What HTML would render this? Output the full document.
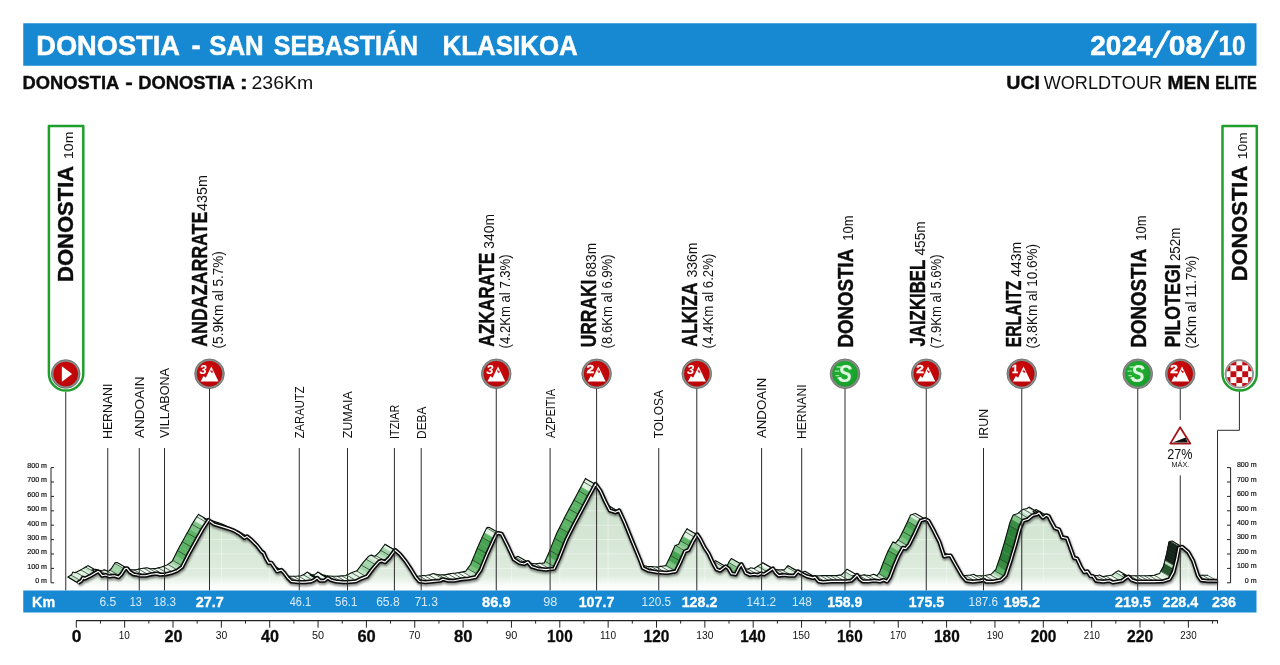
<!DOCTYPE html>
<html lang="eu">
<head>
<meta charset="utf-8">
<title>Donostia - San Sebastián Klasikoa 2024</title>
<style>
html,body{margin:0;padding:0;background:#fff;}
body{width:1280px;height:665px;overflow:hidden;}
svg{display:block;font-family:"Liberation Sans", sans-serif;}
text{font-kerning:normal;}
</style>
</head>
<body>
<svg width="1280" height="665" viewBox="0 0 1280 665">
<rect width="1280" height="665" fill="#fff"/>
<rect x="23.25" y="23.25" width="1233.25" height="42.5" fill="#1789d3"/>
<text x="36.23" y="54.50" font-size="28" font-weight="bold" fill="#fff" textLength="143.78" lengthAdjust="spacingAndGlyphs" stroke="#fff" stroke-width="0.5">DONOSTIA</text>
<text x="191.40" y="54.50" font-size="28" font-weight="bold" fill="#fff" textLength="9.14" lengthAdjust="spacingAndGlyphs" stroke="#fff" stroke-width="0.5">-</text>
<text x="209.23" y="54.50" font-size="28" font-weight="bold" fill="#fff" textLength="54.49" lengthAdjust="spacingAndGlyphs" stroke="#fff" stroke-width="0.5">SAN</text>
<text x="273.75" y="54.50" font-size="28" font-weight="bold" fill="#fff" textLength="144.21" lengthAdjust="spacingAndGlyphs" stroke="#fff" stroke-width="0.5">SEBASTIÁN</text>
<text x="442.57" y="54.50" font-size="28" font-weight="bold" fill="#fff" textLength="135.14" lengthAdjust="spacingAndGlyphs" stroke="#fff" stroke-width="0.5">KLASIKOA</text>
<text x="1090.27" y="54.80" font-size="28" font-weight="bold" fill="#fff" textLength="62.36" lengthAdjust="spacingAndGlyphs" stroke="#fff" stroke-width="0.5">2024</text>
<text x="1168.80" y="54.80" font-size="28" font-weight="bold" fill="#fff" textLength="33.42" lengthAdjust="spacingAndGlyphs" stroke="#fff" stroke-width="0.5">08</text>
<text x="1218.54" y="54.80" font-size="28" font-weight="bold" fill="#fff" textLength="26.98" lengthAdjust="spacingAndGlyphs" stroke="#fff" stroke-width="0.5">10</text>
<text transform="translate(1158.2 56.6) skewX(-15)" font-size="36" fill="#fff" stroke="#fff" stroke-width="0.9" text-anchor="middle">/</text>
<text transform="translate(1206.2 56.6) skewX(-15)" font-size="36" fill="#fff" stroke="#fff" stroke-width="0.9" text-anchor="middle">/</text>
<text x="22.56" y="88.75" font-size="17.5" font-weight="bold" fill="#0c0c0c" textLength="96.70" lengthAdjust="spacingAndGlyphs" stroke="#0c0c0c" stroke-width="0.35">DONOSTIA</text>
<text x="125.35" y="88.75" font-size="17.5" font-weight="bold" fill="#0c0c0c" textLength="7.51" lengthAdjust="spacingAndGlyphs" stroke="#0c0c0c" stroke-width="0.35">-</text>
<text x="138.31" y="88.75" font-size="17.5" font-weight="bold" fill="#0c0c0c" textLength="96.70" lengthAdjust="spacingAndGlyphs" stroke="#0c0c0c" stroke-width="0.35">DONOSTIA</text>
<text x="239.71" y="88.75" font-size="17.5" font-weight="bold" fill="#0c0c0c" textLength="8.04" lengthAdjust="spacingAndGlyphs" stroke="#0c0c0c" stroke-width="0.35">:</text>
<text x="251.53" y="88.75" font-size="17.5" font-weight="normal" fill="#111" textLength="61.71" lengthAdjust="spacingAndGlyphs">236Km</text>
<text x="1006.32" y="88.75" font-size="17.5" font-weight="bold" fill="#0c0c0c" textLength="33.74" lengthAdjust="spacingAndGlyphs" stroke="#0c0c0c" stroke-width="0.35">UCI</text>
<text x="1167.51" y="88.75" font-size="17.5" font-weight="bold" fill="#0c0c0c" textLength="42.53" lengthAdjust="spacingAndGlyphs" stroke="#0c0c0c" stroke-width="0.35">MEN</text>
<text x="1215.30" y="88.75" font-size="17.5" font-weight="bold" fill="#0c0c0c" textLength="41.52" lengthAdjust="spacingAndGlyphs" stroke="#0c0c0c" stroke-width="0.35">ELITE</text>
<text x="1043.66" y="88.75" font-size="17.5" font-weight="normal" fill="#111" textLength="118.45" lengthAdjust="spacingAndGlyphs">WORLDTOUR</text>
<defs>
<linearGradient id="face" x1="0" y1="480" x2="0" y2="592" gradientUnits="userSpaceOnUse"><stop offset="0" stop-color="#c9dfca"/><stop offset="0.5" stop-color="#d5e6d5"/><stop offset="0.85" stop-color="#dfecdf"/><stop offset="0.945" stop-color="#fbfdfb"/><stop offset="1" stop-color="#fff"/></linearGradient>
<filter id="blur" x="-5%" y="-20%" width="110%" height="140%"><feGaussianBlur stdDeviation="1.2"/></filter>
<radialGradient id="ring" cx="0.5" cy="0.5" r="0.5"><stop offset="0.8" stop-color="#6f6f6f"/><stop offset="0.9" stop-color="#b5b5b5"/><stop offset="1" stop-color="#777"/></radialGradient>
<radialGradient id="red" cx="0.45" cy="0.4" r="0.7"><stop offset="0" stop-color="#d20a0c"/><stop offset="1" stop-color="#b40508"/></radialGradient>
<radialGradient id="grn" cx="0.45" cy="0.4" r="0.7"><stop offset="0" stop-color="#22b534"/><stop offset="1" stop-color="#17982a"/></radialGradient>
<clipPath id="faceclip"><path d="M77.9 582.9 L81.4 580.7 L82.9 577.9 L85.0 578.6 L90.7 575.7 L97.9 571.4 L99.3 572.1 L102.1 575.7 L105.7 575.0 L109.3 576.4 L114.3 575.7 L118.6 577.1 L121.4 574.3 L125.0 568.6 L127.1 568.3 L130.0 572.1 L133.6 574.3 L137.9 575.0 L140.0 575.7 L145.7 575.7 L151.4 574.3 L157.1 573.6 L160.0 574.6 L165.7 574.3 L171.4 572.9 L177.1 570.7 L182.1 567.1 L188.6 554.3 L195.7 541.4 L202.9 528.6 L208.6 520.0 L209.3 520.7 L214.3 524.3 L221.4 526.4 L228.6 528.6 L234.3 530.7 L240.0 534.3 L244.3 537.9 L247.1 536.4 L251.4 540.0 L257.1 545.7 L261.4 551.4 L263.6 552.9 L265.7 557.9 L268.6 562.9 L271.4 562.9 L274.3 567.1 L277.1 571.4 L281.4 570.0 L284.3 572.9 L287.9 577.9 L291.4 581.4 L298.6 582.1 L305.7 582.1 L311.4 581.4 L314.3 580.0 L317.1 577.9 L320.0 580.7 L324.3 580.7 L327.9 577.9 L330.7 580.0 L335.7 581.4 L342.9 582.1 L347.1 582.1 L355.7 581.4 L361.4 578.6 L367.1 576.4 L372.9 568.6 L378.6 562.1 L381.4 560.7 L385.0 562.1 L389.3 557.9 L395.0 550.0 L400.0 554.3 L405.7 561.4 L411.4 570.0 L415.7 577.1 L419.3 581.4 L425.7 582.1 L432.9 581.4 L440.0 580.7 L442.9 579.3 L448.6 580.7 L454.3 580.7 L461.4 579.3 L468.6 578.6 L475.7 577.1 L480.7 570.0 L487.1 554.3 L493.6 540.0 L496.4 534.3 L497.9 533.0 L501.6 533.9 L507.3 545.2 L513.8 559.3 L519.5 563.0 L524.2 564.0 L527.9 562.1 L531.7 566.8 L538.3 568.7 L545.8 569.6 L554.2 568.7 L559.0 558.4 L566.5 539.5 L574.0 524.5 L581.5 510.4 L589.0 496.3 L595.6 484.1 L600.3 490.7 L605.0 501.0 L609.7 510.4 L615.3 512.3 L619.1 510.4 L624.7 522.6 L632.3 541.4 L640.0 560.0 L642.9 567.9 L648.6 570.7 L657.1 572.1 L667.1 572.9 L675.7 571.4 L680.0 562.9 L685.0 551.4 L688.6 550.0 L692.9 541.4 L697.1 534.3 L700.0 538.6 L704.3 547.1 L708.6 553.6 L712.9 562.9 L716.4 569.3 L720.0 570.7 L725.7 566.4 L728.6 568.6 L731.4 573.6 L735.7 574.3 L739.3 567.1 L741.4 564.3 L743.6 568.6 L745.7 572.9 L750.0 575.0 L754.3 574.3 L757.9 575.0 L760.7 573.6 L764.3 574.3 L768.6 571.4 L772.9 568.6 L775.7 572.9 L778.6 575.7 L784.3 575.0 L788.6 575.7 L794.3 575.7 L797.9 571.4 L801.4 573.6 L807.1 576.4 L812.9 577.9 L815.0 577.1 L818.6 581.4 L822.9 582.1 L831.4 581.4 L838.6 581.4 L845.7 581.4 L851.4 580.7 L854.3 577.9 L857.1 575.0 L860.0 579.3 L862.9 581.4 L868.6 581.4 L874.3 580.7 L880.0 581.4 L883.6 580.0 L887.1 581.4 L890.0 577.1 L894.3 565.7 L898.6 555.7 L902.9 547.9 L905.7 548.6 L909.3 544.3 L914.3 534.3 L920.5 520.8 L925.3 519.2 L928.4 520.8 L933.2 529.5 L939.5 542.1 L944.2 556.4 L947.4 555.6 L950.5 555.6 L955.3 564.2 L961.6 575.3 L966.4 580.8 L972.7 581.6 L980.6 580.8 L983.7 580.0 L986.1 581.6 L993.2 581.6 L1001.1 580.0 L1005.9 575.3 L1010.6 561.1 L1015.3 545.3 L1020.1 527.9 L1023.2 520.8 L1028.0 519.2 L1032.7 515.3 L1036.7 514.5 L1039.0 512.9 L1041.4 516.1 L1043.0 517.6 L1046.1 515.3 L1048.5 516.1 L1050.9 520.8 L1054.8 527.9 L1059.0 529.5 L1062.1 537.4 L1066.9 538.2 L1070.0 546.9 L1074.0 557.9 L1077.1 558.7 L1081.1 567.4 L1084.2 572.1 L1087.4 571.4 L1090.5 576.1 L1092.9 576.1 L1096.1 580.8 L1103.2 581.6 L1109.5 580.8 L1112.7 582.4 L1117.4 581.6 L1122.2 580.8 L1126.1 577.7 L1128.5 576.6 L1131.6 580.0 L1136.4 581.6 L1144.3 581.6 L1153.7 581.6 L1163.2 581.3 L1169.5 579.3 L1173.5 572.1 L1176.7 559.5 L1179.0 547.7 L1182.2 546.9 L1188.5 552.4 L1193.2 561.1 L1198.1 576.0 L1201.2 580.3 L1207.8 581.0 L1217.4 581.0 L1217.4 590.5 L77.9 590.5 Z"/></clipPath>
</defs>
<g stroke-linejoin="round" stroke-linecap="round">
<polygon points="77.9,582.9 78.7,582.3 68.7,576.5 67.9,577.1" fill="#c3e3c7" stroke="#c3e3c7" stroke-width="0.3"/>
<polygon points="78.7,582.3 81.1,580.9 71.1,575.1 68.7,576.5" fill="#c3e3c7" stroke="#c3e3c7" stroke-width="0.3"/>
<polygon points="81.1,580.9 81.4,580.7 82.9,577.9 83.5,578.1 73.5,572.3 72.9,572.1 71.4,574.9 71.1,575.1" fill="#dff1e1" stroke="#dff1e1" stroke-width="0.3"/>
<polygon points="83.5,578.1 85.0,578.6 86.0,578.1 76.0,572.3 75.0,572.8 73.5,572.3" fill="#dff1e1" stroke="#dff1e1" stroke-width="0.3"/>
<polygon points="86.0,578.1 88.4,576.9 78.4,571.1 76.0,572.3" fill="#dff1e1" stroke="#dff1e1" stroke-width="0.3"/>
<polygon points="88.4,576.9 90.7,575.7 90.8,575.7 80.8,569.9 80.7,569.9 78.4,571.1" fill="#dff1e1" stroke="#dff1e1" stroke-width="0.3"/>
<polygon points="90.8,575.7 93.2,574.2 83.2,568.4 80.8,569.9" fill="#dff1e1" stroke="#dff1e1" stroke-width="0.3"/>
<polygon points="93.2,574.2 95.6,572.8 85.6,567.0 83.2,568.4" fill="#c3e3c7" stroke="#c3e3c7" stroke-width="0.3"/>
<polygon points="95.6,572.8 97.9,571.4 98.1,571.5 88.1,565.7 87.9,565.6 85.6,567.0" fill="#f6fbf6" stroke="#f6fbf6" stroke-width="0.3"/>
<polygon points="102.9,575.6 105.3,575.1 95.3,569.3 92.9,569.8" fill="#f6fbf6" stroke="#f6fbf6" stroke-width="0.3"/>
<polygon points="105.3,575.1 105.7,575.0 107.7,575.8 97.7,570.0 95.7,569.2 95.3,569.3" fill="#f6fbf6" stroke="#f6fbf6" stroke-width="0.3"/>
<polygon points="107.7,575.8 109.3,576.4 110.1,576.3 100.1,570.5 99.3,570.6 97.7,570.0" fill="#f6fbf6" stroke="#f6fbf6" stroke-width="0.3"/>
<polygon points="110.1,576.3 112.6,576.0 102.6,570.2 100.1,570.5" fill="#f6fbf6" stroke="#f6fbf6" stroke-width="0.3"/>
<polygon points="112.6,576.0 114.3,575.7 115.0,575.9 105.0,570.1 104.3,569.9 102.6,570.2" fill="#f6fbf6" stroke="#f6fbf6" stroke-width="0.3"/>
<polygon points="115.0,575.9 117.4,576.7 107.4,570.9 105.0,570.1" fill="#f6fbf6" stroke="#f6fbf6" stroke-width="0.3"/>
<polygon points="117.4,576.7 118.6,577.1 119.8,575.9 109.8,570.1 108.6,571.3 107.4,570.9" fill="#dff1e1" stroke="#dff1e1" stroke-width="0.3"/>
<polygon points="119.8,575.9 121.4,574.3 122.2,573.0 112.2,567.2 111.4,568.5 109.8,570.1" fill="#a3d4a9" stroke="#a3d4a9" stroke-width="0.3"/>
<polygon points="122.2,573.0 124.7,569.1 114.7,563.3 112.2,567.2" fill="#a3d4a9" stroke="#a3d4a9" stroke-width="0.3"/>
<polygon points="124.7,569.1 125.0,568.6 127.1,568.3 117.1,562.5 115.0,562.8 114.7,563.3" fill="#f6fbf6" stroke="#f6fbf6" stroke-width="0.3"/>
<polygon points="131.9,573.3 133.6,574.3 134.3,574.4 124.3,568.6 123.6,568.5 121.9,567.5" fill="#f6fbf6" stroke="#f6fbf6" stroke-width="0.3"/>
<polygon points="134.3,574.4 136.7,574.8 126.7,569.0 124.3,568.6" fill="#f6fbf6" stroke="#f6fbf6" stroke-width="0.3"/>
<polygon points="136.7,574.8 137.9,575.0 139.2,575.4 129.2,569.6 127.9,569.2 126.7,569.0" fill="#f6fbf6" stroke="#f6fbf6" stroke-width="0.3"/>
<polygon points="139.2,575.4 140.0,575.7 141.6,575.7 131.6,569.9 130.0,569.9 129.2,569.6" fill="#f6fbf6" stroke="#f6fbf6" stroke-width="0.3"/>
<polygon points="141.6,575.7 144.0,575.7 134.0,569.9 131.6,569.9" fill="#f6fbf6" stroke="#f6fbf6" stroke-width="0.3"/>
<polygon points="144.0,575.7 145.7,575.7 146.4,575.5 136.4,569.7 135.7,569.9 134.0,569.9" fill="#f6fbf6" stroke="#f6fbf6" stroke-width="0.3"/>
<polygon points="146.4,575.5 148.8,574.9 138.8,569.1 136.4,569.7" fill="#f6fbf6" stroke="#f6fbf6" stroke-width="0.3"/>
<polygon points="148.8,574.9 151.2,574.3 141.2,568.5 138.8,569.1" fill="#f6fbf6" stroke="#f6fbf6" stroke-width="0.3"/>
<polygon points="151.2,574.3 151.4,574.3 153.7,574.0 143.7,568.2 141.4,568.5 141.2,568.5" fill="#f6fbf6" stroke="#f6fbf6" stroke-width="0.3"/>
<polygon points="153.7,574.0 156.1,573.7 146.1,567.9 143.7,568.2" fill="#f6fbf6" stroke="#f6fbf6" stroke-width="0.3"/>
<polygon points="156.1,573.7 157.1,573.6 158.5,574.0 148.5,568.2 147.1,567.8 146.1,567.9" fill="#f6fbf6" stroke="#f6fbf6" stroke-width="0.3"/>
<polygon points="158.5,574.0 160.0,574.6 160.9,574.5 150.9,568.7 150.0,568.8 148.5,568.2" fill="#f6fbf6" stroke="#f6fbf6" stroke-width="0.3"/>
<polygon points="160.9,574.5 163.3,574.4 153.3,568.6 150.9,568.7" fill="#f6fbf6" stroke="#f6fbf6" stroke-width="0.3"/>
<polygon points="163.3,574.4 165.7,574.3 165.8,574.3 155.8,568.5 155.7,568.5 153.3,568.6" fill="#f6fbf6" stroke="#f6fbf6" stroke-width="0.3"/>
<polygon points="165.8,574.3 168.2,573.7 158.2,567.9 155.8,568.5" fill="#f6fbf6" stroke="#f6fbf6" stroke-width="0.3"/>
<polygon points="168.2,573.7 170.6,573.1 160.6,567.3 158.2,567.9" fill="#dff1e1" stroke="#dff1e1" stroke-width="0.3"/>
<polygon points="170.6,573.1 171.4,572.9 173.0,572.3 163.0,566.5 161.4,567.1 160.6,567.3" fill="#dff1e1" stroke="#dff1e1" stroke-width="0.3"/>
<polygon points="173.0,572.3 175.4,571.4 165.4,565.6 163.0,566.5" fill="#dff1e1" stroke="#dff1e1" stroke-width="0.3"/>
<polygon points="175.4,571.4 177.1,570.7 177.8,570.2 167.8,564.4 167.1,564.9 165.4,565.6" fill="#dff1e1" stroke="#dff1e1" stroke-width="0.3"/>
<polygon points="177.8,570.2 180.2,568.5 170.2,562.7 167.8,564.4" fill="#c3e3c7" stroke="#c3e3c7" stroke-width="0.3"/>
<polygon points="180.2,568.5 182.1,567.1 182.7,566.1 172.7,560.3 172.1,561.3 170.2,562.7" fill="#a3d4a9" stroke="#a3d4a9" stroke-width="0.3"/>
<polygon points="182.7,566.1 185.1,561.2 175.1,555.4 172.7,560.3" fill="#80c588" stroke="#80c588" stroke-width="0.3"/>
<polygon points="185.1,561.2 187.5,556.4 177.5,550.6 175.1,555.4" fill="#5cb366" stroke="#5cb366" stroke-width="0.3"/>
<polygon points="187.5,556.4 188.6,554.3 189.9,551.9 179.9,546.1 178.6,548.5 177.5,550.6" fill="#5cb366" stroke="#5cb366" stroke-width="0.3"/>
<polygon points="189.9,551.9 192.3,547.5 182.3,541.7 179.9,546.1" fill="#5cb366" stroke="#5cb366" stroke-width="0.3"/>
<polygon points="192.3,547.5 194.8,543.1 184.8,537.3 182.3,541.7" fill="#5cb366" stroke="#5cb366" stroke-width="0.3"/>
<polygon points="194.8,543.1 195.7,541.4 197.2,538.8 187.2,533.0 185.7,535.6 184.8,537.3" fill="#5cb366" stroke="#5cb366" stroke-width="0.3"/>
<polygon points="197.2,538.8 199.6,534.5 189.6,528.7 187.2,533.0" fill="#5cb366" stroke="#5cb366" stroke-width="0.3"/>
<polygon points="199.6,534.5 202.0,530.1 192.0,524.3 189.6,528.7" fill="#80c588" stroke="#80c588" stroke-width="0.3"/>
<polygon points="202.0,530.1 202.9,528.6 204.4,526.2 194.4,520.4 192.9,522.8 192.0,524.3" fill="#80c588" stroke="#80c588" stroke-width="0.3"/>
<polygon points="204.4,526.2 206.8,522.6 196.8,516.8 194.4,520.4" fill="#dff1e1" stroke="#dff1e1" stroke-width="0.3"/>
<polygon points="206.8,522.6 208.6,520.0 209.3,520.7 199.3,514.9 198.6,514.2 196.8,516.8" fill="#dff1e1" stroke="#dff1e1" stroke-width="0.3"/>
<polygon points="214.1,524.2 214.3,524.3 216.5,525.0 206.5,519.2 204.3,518.5 204.1,518.4" fill="#f6fbf6" stroke="#f6fbf6" stroke-width="0.3"/>
<polygon points="216.5,525.0 218.9,525.7 208.9,519.9 206.5,519.2" fill="#f6fbf6" stroke="#f6fbf6" stroke-width="0.3"/>
<polygon points="218.9,525.7 221.3,526.4 211.3,520.6 208.9,519.9" fill="#f6fbf6" stroke="#f6fbf6" stroke-width="0.3"/>
<polygon points="221.3,526.4 221.4,526.4 223.8,527.1 213.8,521.3 211.4,520.6 211.3,520.6" fill="#f6fbf6" stroke="#f6fbf6" stroke-width="0.3"/>
<polygon points="223.8,527.1 226.2,527.9 216.2,522.1 213.8,521.3" fill="#f6fbf6" stroke="#f6fbf6" stroke-width="0.3"/>
<polygon points="226.2,527.9 228.6,528.6 228.6,528.6 218.6,522.8 218.6,522.8 216.2,522.1" fill="#f6fbf6" stroke="#f6fbf6" stroke-width="0.3"/>
<polygon points="228.6,528.6 231.0,529.5 221.0,523.7 218.6,522.8" fill="#f6fbf6" stroke="#f6fbf6" stroke-width="0.3"/>
<polygon points="231.0,529.5 233.4,530.4 223.4,524.6 221.0,523.7" fill="#f6fbf6" stroke="#f6fbf6" stroke-width="0.3"/>
<polygon points="233.4,530.4 234.3,530.7 235.9,531.7 225.9,525.9 224.3,524.9 223.4,524.6" fill="#f6fbf6" stroke="#f6fbf6" stroke-width="0.3"/>
<polygon points="243.1,536.9 244.3,537.9 245.5,537.2 235.5,531.4 234.3,532.1 233.1,531.1" fill="#f6fbf6" stroke="#f6fbf6" stroke-width="0.3"/>
<polygon points="245.5,537.2 247.1,536.4 247.9,537.1 237.9,531.3 237.1,530.6 235.5,531.4" fill="#f6fbf6" stroke="#f6fbf6" stroke-width="0.3"/>
<polygon points="269.7,562.9 271.4,562.9 272.1,563.9 262.1,558.1 261.4,557.1 259.7,557.1" fill="#f6fbf6" stroke="#f6fbf6" stroke-width="0.3"/>
<polygon points="276.9,571.1 277.1,571.4 279.4,570.7 269.4,564.9 267.1,565.6 266.9,565.3" fill="#f6fbf6" stroke="#f6fbf6" stroke-width="0.3"/>
<polygon points="279.4,570.7 281.4,570.0 281.8,570.4 271.8,564.6 271.4,564.2 269.4,564.9" fill="#f6fbf6" stroke="#f6fbf6" stroke-width="0.3"/>
<polygon points="291.5,581.4 293.9,581.7 283.9,575.9 281.5,575.6" fill="#f6fbf6" stroke="#f6fbf6" stroke-width="0.3"/>
<polygon points="293.9,581.7 296.3,581.9 286.3,576.1 283.9,575.9" fill="#f6fbf6" stroke="#f6fbf6" stroke-width="0.3"/>
<polygon points="296.3,581.9 298.6,582.1 298.7,582.1 288.7,576.3 288.6,576.3 286.3,576.1" fill="#f6fbf6" stroke="#f6fbf6" stroke-width="0.3"/>
<polygon points="298.7,582.1 301.1,582.1 291.1,576.3 288.7,576.3" fill="#f6fbf6" stroke="#f6fbf6" stroke-width="0.3"/>
<polygon points="301.1,582.1 303.6,582.1 293.6,576.3 291.1,576.3" fill="#f6fbf6" stroke="#f6fbf6" stroke-width="0.3"/>
<polygon points="303.6,582.1 305.7,582.1 306.0,582.1 296.0,576.3 295.7,576.3 293.6,576.3" fill="#f6fbf6" stroke="#f6fbf6" stroke-width="0.3"/>
<polygon points="306.0,582.1 308.4,581.8 298.4,576.0 296.0,576.3" fill="#f6fbf6" stroke="#f6fbf6" stroke-width="0.3"/>
<polygon points="308.4,581.8 310.8,581.5 300.8,575.7 298.4,576.0" fill="#f6fbf6" stroke="#f6fbf6" stroke-width="0.3"/>
<polygon points="310.8,581.5 311.4,581.4 313.2,580.5 303.2,574.7 301.4,575.6 300.8,575.7" fill="#dff1e1" stroke="#dff1e1" stroke-width="0.3"/>
<polygon points="313.2,580.5 314.3,580.0 315.6,579.0 305.6,573.2 304.3,574.2 303.2,574.7" fill="#dff1e1" stroke="#dff1e1" stroke-width="0.3"/>
<polygon points="315.6,579.0 317.1,577.9 318.1,578.8 308.1,573.0 307.1,572.1 305.6,573.2" fill="#f6fbf6" stroke="#f6fbf6" stroke-width="0.3"/>
<polygon points="320.5,580.7 322.9,580.7 312.9,574.9 310.5,574.9" fill="#f6fbf6" stroke="#f6fbf6" stroke-width="0.3"/>
<polygon points="322.9,580.7 324.3,580.7 325.3,579.9 315.3,574.1 314.3,574.9 312.9,574.9" fill="#dff1e1" stroke="#dff1e1" stroke-width="0.3"/>
<polygon points="325.3,579.9 327.7,578.0 317.7,572.2 315.3,574.1" fill="#f6fbf6" stroke="#f6fbf6" stroke-width="0.3"/>
<polygon points="330.1,579.6 330.7,580.0 332.6,580.5 322.6,574.7 320.7,574.2 320.1,573.8" fill="#f6fbf6" stroke="#f6fbf6" stroke-width="0.3"/>
<polygon points="332.6,580.5 335.0,581.2 325.0,575.4 322.6,574.7" fill="#f6fbf6" stroke="#f6fbf6" stroke-width="0.3"/>
<polygon points="335.0,581.2 335.7,581.4 337.4,581.6 327.4,575.8 325.7,575.6 325.0,575.4" fill="#f6fbf6" stroke="#f6fbf6" stroke-width="0.3"/>
<polygon points="337.4,581.6 339.8,581.8 329.8,576.0 327.4,575.8" fill="#f6fbf6" stroke="#f6fbf6" stroke-width="0.3"/>
<polygon points="339.8,581.8 342.2,582.1 332.2,576.3 329.8,576.0" fill="#f6fbf6" stroke="#f6fbf6" stroke-width="0.3"/>
<polygon points="342.2,582.1 342.9,582.1 344.6,582.1 334.6,576.3 332.9,576.3 332.2,576.3" fill="#f6fbf6" stroke="#f6fbf6" stroke-width="0.3"/>
<polygon points="344.6,582.1 347.1,582.1 337.1,576.3 334.6,576.3" fill="#f6fbf6" stroke="#f6fbf6" stroke-width="0.3"/>
<polygon points="347.1,582.1 347.1,582.1 349.5,581.9 339.5,576.1 337.1,576.3 337.1,576.3" fill="#f6fbf6" stroke="#f6fbf6" stroke-width="0.3"/>
<polygon points="349.5,581.9 351.9,581.7 341.9,575.9 339.5,576.1" fill="#f6fbf6" stroke="#f6fbf6" stroke-width="0.3"/>
<polygon points="351.9,581.7 354.3,581.5 344.3,575.7 341.9,575.9" fill="#f6fbf6" stroke="#f6fbf6" stroke-width="0.3"/>
<polygon points="354.3,581.5 355.7,581.4 356.7,580.9 346.7,575.1 345.7,575.6 344.3,575.7" fill="#dff1e1" stroke="#dff1e1" stroke-width="0.3"/>
<polygon points="356.7,580.9 359.1,579.7 349.1,573.9 346.7,575.1" fill="#dff1e1" stroke="#dff1e1" stroke-width="0.3"/>
<polygon points="359.1,579.7 361.4,578.6 361.6,578.5 351.6,572.7 351.4,572.8 349.1,573.9" fill="#dff1e1" stroke="#dff1e1" stroke-width="0.3"/>
<polygon points="361.6,578.5 364.0,577.6 354.0,571.8 351.6,572.7" fill="#dff1e1" stroke="#dff1e1" stroke-width="0.3"/>
<polygon points="364.0,577.6 366.4,576.7 356.4,570.9 354.0,571.8" fill="#dff1e1" stroke="#dff1e1" stroke-width="0.3"/>
<polygon points="366.4,576.7 367.1,576.4 368.8,574.1 358.8,568.3 357.1,570.6 356.4,570.9" fill="#c3e3c7" stroke="#c3e3c7" stroke-width="0.3"/>
<polygon points="368.8,574.1 371.2,570.8 361.2,565.0 358.8,568.3" fill="#a3d4a9" stroke="#a3d4a9" stroke-width="0.3"/>
<polygon points="371.2,570.8 372.9,568.6 373.6,567.7 363.6,561.9 362.9,562.8 361.2,565.0" fill="#a3d4a9" stroke="#a3d4a9" stroke-width="0.3"/>
<polygon points="373.6,567.7 376.1,565.0 366.1,559.2 363.6,561.9" fill="#a3d4a9" stroke="#a3d4a9" stroke-width="0.3"/>
<polygon points="376.1,565.0 378.5,562.2 368.5,556.4 366.1,559.2" fill="#c3e3c7" stroke="#c3e3c7" stroke-width="0.3"/>
<polygon points="378.5,562.2 378.6,562.1 380.9,561.0 370.9,555.2 368.6,556.3 368.5,556.4" fill="#dff1e1" stroke="#dff1e1" stroke-width="0.3"/>
<polygon points="380.9,561.0 381.4,560.7 383.3,561.5 373.3,555.7 371.4,554.9 370.9,555.2" fill="#f6fbf6" stroke="#f6fbf6" stroke-width="0.3"/>
<polygon points="383.3,561.5 385.0,562.1 385.7,561.4 375.7,555.6 375.0,556.3 373.3,555.7" fill="#dff1e1" stroke="#dff1e1" stroke-width="0.3"/>
<polygon points="385.7,561.4 388.2,559.0 378.2,553.2 375.7,555.6" fill="#c3e3c7" stroke="#c3e3c7" stroke-width="0.3"/>
<polygon points="388.2,559.0 389.3,557.9 390.6,556.1 380.6,550.3 379.3,552.1 378.2,553.2" fill="#a3d4a9" stroke="#a3d4a9" stroke-width="0.3"/>
<polygon points="390.6,556.1 393.0,552.8 383.0,547.0 380.6,550.3" fill="#a3d4a9" stroke="#a3d4a9" stroke-width="0.3"/>
<polygon points="393.0,552.8 395.0,550.0 395.4,550.4 385.4,544.6 385.0,544.2 383.0,547.0" fill="#dff1e1" stroke="#dff1e1" stroke-width="0.3"/>
<polygon points="419.6,581.5 422.0,581.7 412.0,575.9 409.6,575.7" fill="#f6fbf6" stroke="#f6fbf6" stroke-width="0.3"/>
<polygon points="422.0,581.7 424.4,582.0 414.4,576.2 412.0,575.9" fill="#f6fbf6" stroke="#f6fbf6" stroke-width="0.3"/>
<polygon points="424.4,582.0 425.7,582.1 426.8,582.0 416.8,576.2 415.7,576.3 414.4,576.2" fill="#f6fbf6" stroke="#f6fbf6" stroke-width="0.3"/>
<polygon points="426.8,582.0 429.2,581.8 419.2,576.0 416.8,576.2" fill="#f6fbf6" stroke="#f6fbf6" stroke-width="0.3"/>
<polygon points="429.2,581.8 431.7,581.5 421.7,575.7 419.2,576.0" fill="#f6fbf6" stroke="#f6fbf6" stroke-width="0.3"/>
<polygon points="431.7,581.5 432.9,581.4 434.1,581.3 424.1,575.5 422.9,575.6 421.7,575.7" fill="#f6fbf6" stroke="#f6fbf6" stroke-width="0.3"/>
<polygon points="434.1,581.3 436.5,581.1 426.5,575.3 424.1,575.5" fill="#f6fbf6" stroke="#f6fbf6" stroke-width="0.3"/>
<polygon points="436.5,581.1 438.9,580.8 428.9,575.0 426.5,575.3" fill="#f6fbf6" stroke="#f6fbf6" stroke-width="0.3"/>
<polygon points="438.9,580.8 440.0,580.7 441.3,580.0 431.3,574.2 430.0,574.9 428.9,575.0" fill="#f6fbf6" stroke="#f6fbf6" stroke-width="0.3"/>
<polygon points="441.3,580.0 442.9,579.3 443.8,579.5 433.8,573.7 432.9,573.5 431.3,574.2" fill="#f6fbf6" stroke="#f6fbf6" stroke-width="0.3"/>
<polygon points="443.8,579.5 446.2,580.1 436.2,574.3 433.8,573.7" fill="#f6fbf6" stroke="#f6fbf6" stroke-width="0.3"/>
<polygon points="446.2,580.1 448.6,580.7 448.6,580.7 438.6,574.9 438.6,574.9 436.2,574.3" fill="#f6fbf6" stroke="#f6fbf6" stroke-width="0.3"/>
<polygon points="448.6,580.7 451.0,580.7 441.0,574.9 438.6,574.9" fill="#f6fbf6" stroke="#f6fbf6" stroke-width="0.3"/>
<polygon points="451.0,580.7 453.4,580.7 443.4,574.9 441.0,574.9" fill="#f6fbf6" stroke="#f6fbf6" stroke-width="0.3"/>
<polygon points="453.4,580.7 454.3,580.7 455.9,580.4 445.9,574.6 444.3,574.9 443.4,574.9" fill="#f6fbf6" stroke="#f6fbf6" stroke-width="0.3"/>
<polygon points="455.9,580.4 458.3,579.9 448.3,574.1 445.9,574.6" fill="#f6fbf6" stroke="#f6fbf6" stroke-width="0.3"/>
<polygon points="458.3,579.9 460.7,579.4 450.7,573.6 448.3,574.1" fill="#f6fbf6" stroke="#f6fbf6" stroke-width="0.3"/>
<polygon points="460.7,579.4 461.4,579.3 463.1,579.1 453.1,573.3 451.4,573.5 450.7,573.6" fill="#f6fbf6" stroke="#f6fbf6" stroke-width="0.3"/>
<polygon points="463.1,579.1 465.5,578.9 455.5,573.1 453.1,573.3" fill="#f6fbf6" stroke="#f6fbf6" stroke-width="0.3"/>
<polygon points="465.5,578.9 467.9,578.6 457.9,572.8 455.5,573.1" fill="#f6fbf6" stroke="#f6fbf6" stroke-width="0.3"/>
<polygon points="467.9,578.6 468.6,578.6 470.4,578.2 460.4,572.4 458.6,572.8 457.9,572.8" fill="#f6fbf6" stroke="#f6fbf6" stroke-width="0.3"/>
<polygon points="470.4,578.2 472.8,577.7 462.8,571.9 460.4,572.4" fill="#f6fbf6" stroke="#f6fbf6" stroke-width="0.3"/>
<polygon points="472.8,577.7 475.2,577.2 465.2,571.4 462.8,571.9" fill="#dff1e1" stroke="#dff1e1" stroke-width="0.3"/>
<polygon points="475.2,577.2 475.7,577.1 477.6,574.4 467.6,568.6 465.7,571.3 465.2,571.4" fill="#c3e3c7" stroke="#c3e3c7" stroke-width="0.3"/>
<polygon points="477.6,574.4 480.0,571.0 470.0,565.2 467.6,568.6" fill="#80c588" stroke="#80c588" stroke-width="0.3"/>
<polygon points="480.0,571.0 480.7,570.0 482.4,565.8 472.4,560.0 470.7,564.2 470.0,565.2" fill="#5cb366" stroke="#5cb366" stroke-width="0.3"/>
<polygon points="482.4,565.8 484.9,559.9 474.9,554.1 472.4,560.0" fill="#47a352" stroke="#47a352" stroke-width="0.3"/>
<polygon points="484.9,559.9 487.1,554.3 487.3,554.0 477.3,548.2 477.1,548.5 474.9,554.1" fill="#47a352" stroke="#47a352" stroke-width="0.3"/>
<polygon points="487.3,554.0 489.7,548.6 479.7,542.8 477.3,548.2" fill="#47a352" stroke="#47a352" stroke-width="0.3"/>
<polygon points="489.7,548.6 492.1,543.2 482.1,537.4 479.7,542.8" fill="#47a352" stroke="#47a352" stroke-width="0.3"/>
<polygon points="492.1,543.2 493.6,540.0 494.5,538.1 484.5,532.3 483.6,534.2 482.1,537.4" fill="#5cb366" stroke="#5cb366" stroke-width="0.3"/>
<polygon points="494.5,538.1 496.4,534.3 496.9,533.8 486.9,528.0 486.4,528.5 484.5,532.3" fill="#dff1e1" stroke="#dff1e1" stroke-width="0.3"/>
<polygon points="496.9,533.8 497.9,533.0 499.4,533.3 489.4,527.5 487.9,527.2 486.9,528.0" fill="#dff1e1" stroke="#dff1e1" stroke-width="0.3"/>
<polygon points="499.4,533.3 501.6,533.9 501.8,534.2 491.8,528.4 491.6,528.1 489.4,527.5" fill="#f6fbf6" stroke="#f6fbf6" stroke-width="0.3"/>
<polygon points="518.7,562.5 519.5,563.0 521.1,563.4 511.1,557.6 509.5,557.2 508.7,556.7" fill="#f6fbf6" stroke="#f6fbf6" stroke-width="0.3"/>
<polygon points="521.1,563.4 523.5,563.9 513.5,558.1 511.1,557.6" fill="#f6fbf6" stroke="#f6fbf6" stroke-width="0.3"/>
<polygon points="523.5,563.9 524.2,564.0 526.0,563.1 516.0,557.3 514.2,558.2 513.5,558.1" fill="#f6fbf6" stroke="#f6fbf6" stroke-width="0.3"/>
<polygon points="526.0,563.1 527.9,562.1 528.4,562.7 518.4,556.9 517.9,556.3 516.0,557.3" fill="#f6fbf6" stroke="#f6fbf6" stroke-width="0.3"/>
<polygon points="533.2,567.2 535.6,567.9 525.6,562.1 523.2,561.4" fill="#f6fbf6" stroke="#f6fbf6" stroke-width="0.3"/>
<polygon points="535.6,567.9 538.0,568.6 528.0,562.8 525.6,562.1" fill="#f6fbf6" stroke="#f6fbf6" stroke-width="0.3"/>
<polygon points="538.0,568.6 538.3,568.7 540.5,569.0 530.5,563.2 528.3,562.9 528.0,562.8" fill="#f6fbf6" stroke="#f6fbf6" stroke-width="0.3"/>
<polygon points="540.5,569.0 542.9,569.3 532.9,563.5 530.5,563.2" fill="#f6fbf6" stroke="#f6fbf6" stroke-width="0.3"/>
<polygon points="542.9,569.3 545.3,569.6 535.3,563.8 532.9,563.5" fill="#f6fbf6" stroke="#f6fbf6" stroke-width="0.3"/>
<polygon points="545.3,569.6 545.8,569.6 547.7,569.4 537.7,563.6 535.8,563.8 535.3,563.8" fill="#f6fbf6" stroke="#f6fbf6" stroke-width="0.3"/>
<polygon points="547.7,569.4 550.1,569.1 540.1,563.3 537.7,563.6" fill="#f6fbf6" stroke="#f6fbf6" stroke-width="0.3"/>
<polygon points="550.1,569.1 552.5,568.9 542.5,563.1 540.1,563.3" fill="#dff1e1" stroke="#dff1e1" stroke-width="0.3"/>
<polygon points="552.5,568.9 554.2,568.7 555.0,567.1 545.0,561.3 544.2,562.9 542.5,563.1" fill="#a3d4a9" stroke="#a3d4a9" stroke-width="0.3"/>
<polygon points="555.0,567.1 557.4,561.8 547.4,556.0 545.0,561.3" fill="#80c588" stroke="#80c588" stroke-width="0.3"/>
<polygon points="557.4,561.8 559.0,558.4 559.8,556.2 549.8,550.4 549.0,552.6 547.4,556.0" fill="#47a352" stroke="#47a352" stroke-width="0.3"/>
<polygon points="559.8,556.2 562.2,550.2 552.2,544.4 549.8,550.4" fill="#47a352" stroke="#47a352" stroke-width="0.3"/>
<polygon points="562.2,550.2 564.6,544.2 554.6,538.4 552.2,544.4" fill="#47a352" stroke="#47a352" stroke-width="0.3"/>
<polygon points="564.6,544.2 566.5,539.5 567.0,538.4 557.0,532.6 556.5,533.8 554.6,538.4" fill="#47a352" stroke="#47a352" stroke-width="0.3"/>
<polygon points="567.0,538.4 569.5,533.5 559.5,527.7 557.0,532.6" fill="#47a352" stroke="#47a352" stroke-width="0.3"/>
<polygon points="569.5,533.5 571.9,528.7 561.9,522.9 559.5,527.7" fill="#5cb366" stroke="#5cb366" stroke-width="0.3"/>
<polygon points="571.9,528.7 574.0,524.5 574.3,523.9 564.3,518.1 564.0,518.7 561.9,522.9" fill="#5cb366" stroke="#5cb366" stroke-width="0.3"/>
<polygon points="574.3,523.9 576.7,519.4 566.7,513.6 564.3,518.1" fill="#5cb366" stroke="#5cb366" stroke-width="0.3"/>
<polygon points="576.7,519.4 579.1,514.8 569.1,509.0 566.7,513.6" fill="#5cb366" stroke="#5cb366" stroke-width="0.3"/>
<polygon points="579.1,514.8 581.5,510.4 581.6,510.3 571.6,504.5 571.5,504.6 569.1,509.0" fill="#5cb366" stroke="#5cb366" stroke-width="0.3"/>
<polygon points="581.6,510.3 584.0,505.8 574.0,500.0 571.6,504.5" fill="#5cb366" stroke="#5cb366" stroke-width="0.3"/>
<polygon points="584.0,505.8 586.4,501.2 576.4,495.4 574.0,500.0" fill="#5cb366" stroke="#5cb366" stroke-width="0.3"/>
<polygon points="586.4,501.2 588.8,496.7 578.8,490.9 576.4,495.4" fill="#5cb366" stroke="#5cb366" stroke-width="0.3"/>
<polygon points="588.8,496.7 589.0,496.3 591.2,492.2 581.2,486.4 579.0,490.5 578.8,490.9" fill="#5cb366" stroke="#5cb366" stroke-width="0.3"/>
<polygon points="591.2,492.2 593.6,487.7 583.6,481.9 581.2,486.4" fill="#dff1e1" stroke="#dff1e1" stroke-width="0.3"/>
<polygon points="593.6,487.7 595.6,484.1 596.1,484.7 586.1,478.9 585.6,478.3 583.6,481.9" fill="#dff1e1" stroke="#dff1e1" stroke-width="0.3"/>
<polygon points="610.6,510.7 613.0,511.5 603.0,505.7 600.6,504.9" fill="#f6fbf6" stroke="#f6fbf6" stroke-width="0.3"/>
<polygon points="613.0,511.5 615.3,512.3 615.4,512.3 605.4,506.5 605.3,506.5 603.0,505.7" fill="#f6fbf6" stroke="#f6fbf6" stroke-width="0.3"/>
<polygon points="615.4,512.3 617.8,511.1 607.8,505.2 605.4,506.5" fill="#f6fbf6" stroke="#f6fbf6" stroke-width="0.3"/>
<polygon points="644.4,568.6 646.8,569.8 636.8,564.0 634.4,562.8" fill="#f6fbf6" stroke="#f6fbf6" stroke-width="0.3"/>
<polygon points="646.8,569.8 648.6,570.7 649.2,570.8 639.2,565.0 638.6,564.9 636.8,564.0" fill="#f6fbf6" stroke="#f6fbf6" stroke-width="0.3"/>
<polygon points="649.2,570.8 651.7,571.2 641.7,565.4 639.2,565.0" fill="#f6fbf6" stroke="#f6fbf6" stroke-width="0.3"/>
<polygon points="651.7,571.2 654.1,571.6 644.1,565.8 641.7,565.4" fill="#f6fbf6" stroke="#f6fbf6" stroke-width="0.3"/>
<polygon points="654.1,571.6 656.5,572.0 646.5,566.2 644.1,565.8" fill="#f6fbf6" stroke="#f6fbf6" stroke-width="0.3"/>
<polygon points="656.5,572.0 657.1,572.1 658.9,572.3 648.9,566.5 647.1,566.3 646.5,566.2" fill="#f6fbf6" stroke="#f6fbf6" stroke-width="0.3"/>
<polygon points="658.9,572.3 661.3,572.4 651.3,566.6 648.9,566.5" fill="#f6fbf6" stroke="#f6fbf6" stroke-width="0.3"/>
<polygon points="661.3,572.4 663.8,572.6 653.8,566.8 651.3,566.6" fill="#f6fbf6" stroke="#f6fbf6" stroke-width="0.3"/>
<polygon points="663.8,572.6 666.2,572.8 656.2,567.0 653.8,566.8" fill="#f6fbf6" stroke="#f6fbf6" stroke-width="0.3"/>
<polygon points="666.2,572.8 667.1,572.9 668.6,572.6 658.6,566.8 657.1,567.1 656.2,567.0" fill="#f6fbf6" stroke="#f6fbf6" stroke-width="0.3"/>
<polygon points="668.6,572.6 671.0,572.2 661.0,566.4 658.6,566.8" fill="#f6fbf6" stroke="#f6fbf6" stroke-width="0.3"/>
<polygon points="671.0,572.2 673.4,571.8 663.4,566.0 661.0,566.4" fill="#f6fbf6" stroke="#f6fbf6" stroke-width="0.3"/>
<polygon points="673.4,571.8 675.7,571.4 675.8,571.2 665.8,565.4 665.7,565.6 663.4,566.0" fill="#c3e3c7" stroke="#c3e3c7" stroke-width="0.3"/>
<polygon points="675.8,571.2 678.3,566.3 668.3,560.5 665.8,565.4" fill="#80c588" stroke="#80c588" stroke-width="0.3"/>
<polygon points="678.3,566.3 680.0,562.9 680.7,561.3 670.7,555.5 670.0,557.1 668.3,560.5" fill="#47a352" stroke="#47a352" stroke-width="0.3"/>
<polygon points="680.7,561.3 683.1,555.8 673.1,550.0 670.7,555.5" fill="#47a352" stroke="#47a352" stroke-width="0.3"/>
<polygon points="683.1,555.8 685.0,551.4 685.5,551.2 675.5,545.4 675.0,545.6 673.1,550.0" fill="#80c588" stroke="#80c588" stroke-width="0.3"/>
<polygon points="685.5,551.2 687.9,550.3 677.9,544.5 675.5,545.4" fill="#a3d4a9" stroke="#a3d4a9" stroke-width="0.3"/>
<polygon points="687.9,550.3 688.6,550.0 690.3,546.5 680.3,540.7 678.6,544.2 677.9,544.5" fill="#80c588" stroke="#80c588" stroke-width="0.3"/>
<polygon points="690.3,546.5 692.8,541.6 682.8,535.8 680.3,540.7" fill="#5cb366" stroke="#5cb366" stroke-width="0.3"/>
<polygon points="692.8,541.6 692.9,541.4 695.2,537.6 685.2,531.8 682.9,535.6 682.8,535.8" fill="#dff1e1" stroke="#dff1e1" stroke-width="0.3"/>
<polygon points="695.2,537.6 697.1,534.3 697.6,535.0 687.6,529.2 687.1,528.5 685.2,531.8" fill="#dff1e1" stroke="#dff1e1" stroke-width="0.3"/>
<polygon points="716.9,569.5 719.4,570.5 709.4,564.7 706.9,563.7" fill="#f6fbf6" stroke="#f6fbf6" stroke-width="0.3"/>
<polygon points="719.4,570.5 720.0,570.7 721.8,569.4 711.8,563.6 710.0,564.9 709.4,564.7" fill="#dff1e1" stroke="#dff1e1" stroke-width="0.3"/>
<polygon points="721.8,569.4 724.2,567.6 714.2,561.8 711.8,563.6" fill="#dff1e1" stroke="#dff1e1" stroke-width="0.3"/>
<polygon points="724.2,567.6 725.7,566.4 726.6,567.1 716.6,561.3 715.7,560.6 714.2,561.8" fill="#f6fbf6" stroke="#f6fbf6" stroke-width="0.3"/>
<polygon points="731.4,573.6 733.9,574.0 723.9,568.2 721.4,567.8" fill="#f6fbf6" stroke="#f6fbf6" stroke-width="0.3"/>
<polygon points="733.9,574.0 735.7,574.3 736.3,573.2 726.3,567.4 725.7,568.5 723.9,568.2" fill="#c3e3c7" stroke="#c3e3c7" stroke-width="0.3"/>
<polygon points="736.3,573.2 738.7,568.3 728.7,562.5 726.3,567.4" fill="#80c588" stroke="#80c588" stroke-width="0.3"/>
<polygon points="738.7,568.3 739.3,567.1 741.1,564.7 731.1,558.9 729.3,561.3 728.7,562.5" fill="#c3e3c7" stroke="#c3e3c7" stroke-width="0.3"/>
<polygon points="746.0,573.0 748.4,574.2 738.4,568.4 736.0,567.2" fill="#f6fbf6" stroke="#f6fbf6" stroke-width="0.3"/>
<polygon points="748.4,574.2 750.0,575.0 750.8,574.9 740.8,569.1 740.0,569.2 738.4,568.4" fill="#f6fbf6" stroke="#f6fbf6" stroke-width="0.3"/>
<polygon points="750.8,574.9 753.2,574.5 743.2,568.7 740.8,569.1" fill="#f6fbf6" stroke="#f6fbf6" stroke-width="0.3"/>
<polygon points="753.2,574.5 754.3,574.3 755.6,574.6 745.6,568.8 744.3,568.5 743.2,568.7" fill="#f6fbf6" stroke="#f6fbf6" stroke-width="0.3"/>
<polygon points="755.6,574.6 757.9,575.0 758.0,574.9 748.0,569.1 747.9,569.2 745.6,568.8" fill="#f6fbf6" stroke="#f6fbf6" stroke-width="0.3"/>
<polygon points="758.0,574.9 760.5,573.7 750.5,567.9 748.0,569.1" fill="#f6fbf6" stroke="#f6fbf6" stroke-width="0.3"/>
<polygon points="760.5,573.7 760.7,573.6 762.9,574.0 752.9,568.2 750.7,567.8 750.5,567.9" fill="#f6fbf6" stroke="#f6fbf6" stroke-width="0.3"/>
<polygon points="762.9,574.0 764.3,574.3 765.3,573.6 755.3,567.8 754.3,568.5 752.9,568.2" fill="#f6fbf6" stroke="#f6fbf6" stroke-width="0.3"/>
<polygon points="765.3,573.6 767.7,572.0 757.7,566.2 755.3,567.8" fill="#dff1e1" stroke="#dff1e1" stroke-width="0.3"/>
<polygon points="767.7,572.0 768.6,571.4 770.1,570.4 760.1,564.6 758.6,565.6 757.7,566.2" fill="#c3e3c7" stroke="#c3e3c7" stroke-width="0.3"/>
<polygon points="770.1,570.4 772.5,568.8 762.5,563.0 760.1,564.6" fill="#f6fbf6" stroke="#f6fbf6" stroke-width="0.3"/>
<polygon points="777.4,574.5 778.6,575.7 779.8,575.6 769.8,569.8 768.6,569.9 767.4,568.7" fill="#f6fbf6" stroke="#f6fbf6" stroke-width="0.3"/>
<polygon points="779.8,575.6 782.2,575.3 772.2,569.5 769.8,569.8" fill="#f6fbf6" stroke="#f6fbf6" stroke-width="0.3"/>
<polygon points="782.2,575.3 784.3,575.0 784.6,575.1 774.6,569.3 774.3,569.2 772.2,569.5" fill="#f6fbf6" stroke="#f6fbf6" stroke-width="0.3"/>
<polygon points="784.6,575.1 787.0,575.5 777.0,569.7 774.6,569.3" fill="#f6fbf6" stroke="#f6fbf6" stroke-width="0.3"/>
<polygon points="787.0,575.5 788.6,575.7 789.5,575.7 779.5,569.9 778.6,569.9 777.0,569.7" fill="#f6fbf6" stroke="#f6fbf6" stroke-width="0.3"/>
<polygon points="789.5,575.7 791.9,575.7 781.9,569.9 779.5,569.9" fill="#f6fbf6" stroke="#f6fbf6" stroke-width="0.3"/>
<polygon points="791.9,575.7 794.3,575.7 794.3,575.7 784.3,569.9 784.3,569.9 781.9,569.9" fill="#dff1e1" stroke="#dff1e1" stroke-width="0.3"/>
<polygon points="794.3,575.7 796.7,572.8 786.7,567.0 784.3,569.9" fill="#dff1e1" stroke="#dff1e1" stroke-width="0.3"/>
<polygon points="796.7,572.8 797.9,571.4 799.1,572.2 789.1,566.4 787.9,565.6 786.7,567.0" fill="#dff1e1" stroke="#dff1e1" stroke-width="0.3"/>
<polygon points="799.1,572.2 801.4,573.6 801.5,573.6 791.5,567.8 791.4,567.8 789.1,566.4" fill="#f6fbf6" stroke="#f6fbf6" stroke-width="0.3"/>
<polygon points="801.5,573.6 804.0,574.8 794.0,569.0 791.5,567.8" fill="#f6fbf6" stroke="#f6fbf6" stroke-width="0.3"/>
<polygon points="804.0,574.8 806.4,576.0 796.4,570.2 794.0,569.0" fill="#f6fbf6" stroke="#f6fbf6" stroke-width="0.3"/>
<polygon points="806.4,576.0 807.1,576.4 808.8,576.8 798.8,571.0 797.1,570.6 796.4,570.2" fill="#f6fbf6" stroke="#f6fbf6" stroke-width="0.3"/>
<polygon points="808.8,576.8 811.2,577.5 801.2,571.7 798.8,571.0" fill="#f6fbf6" stroke="#f6fbf6" stroke-width="0.3"/>
<polygon points="811.2,577.5 812.9,577.9 813.6,577.6 803.6,571.8 802.9,572.1 801.2,571.7" fill="#f6fbf6" stroke="#f6fbf6" stroke-width="0.3"/>
<polygon points="813.6,577.6 815.0,577.1 816.0,578.4 806.0,572.6 805.0,571.3 803.6,571.8" fill="#f6fbf6" stroke="#f6fbf6" stroke-width="0.3"/>
<polygon points="818.5,581.3 818.6,581.4 820.9,581.8 810.9,576.0 808.6,575.6 808.5,575.5" fill="#f6fbf6" stroke="#f6fbf6" stroke-width="0.3"/>
<polygon points="820.9,581.8 822.9,582.1 823.3,582.1 813.3,576.3 812.9,576.3 810.9,576.0" fill="#f6fbf6" stroke="#f6fbf6" stroke-width="0.3"/>
<polygon points="823.3,582.1 825.7,581.9 815.7,576.1 813.3,576.3" fill="#f6fbf6" stroke="#f6fbf6" stroke-width="0.3"/>
<polygon points="825.7,581.9 828.1,581.7 818.1,575.9 815.7,576.1" fill="#f6fbf6" stroke="#f6fbf6" stroke-width="0.3"/>
<polygon points="828.1,581.7 830.6,581.5 820.6,575.7 818.1,575.9" fill="#f6fbf6" stroke="#f6fbf6" stroke-width="0.3"/>
<polygon points="830.6,581.5 831.4,581.4 833.0,581.4 823.0,575.6 821.4,575.6 820.6,575.7" fill="#f6fbf6" stroke="#f6fbf6" stroke-width="0.3"/>
<polygon points="833.0,581.4 835.4,581.4 825.4,575.6 823.0,575.6" fill="#f6fbf6" stroke="#f6fbf6" stroke-width="0.3"/>
<polygon points="835.4,581.4 837.8,581.4 827.8,575.6 825.4,575.6" fill="#f6fbf6" stroke="#f6fbf6" stroke-width="0.3"/>
<polygon points="837.8,581.4 838.6,581.4 840.2,581.4 830.2,575.6 828.6,575.6 827.8,575.6" fill="#f6fbf6" stroke="#f6fbf6" stroke-width="0.3"/>
<polygon points="840.2,581.4 842.6,581.4 832.6,575.6 830.2,575.6" fill="#f6fbf6" stroke="#f6fbf6" stroke-width="0.3"/>
<polygon points="842.6,581.4 845.1,581.4 835.1,575.6 832.6,575.6" fill="#f6fbf6" stroke="#f6fbf6" stroke-width="0.3"/>
<polygon points="845.1,581.4 845.7,581.4 847.5,581.2 837.5,575.4 835.7,575.6 835.1,575.6" fill="#f6fbf6" stroke="#f6fbf6" stroke-width="0.3"/>
<polygon points="847.5,581.2 849.9,580.9 839.9,575.1 837.5,575.4" fill="#f6fbf6" stroke="#f6fbf6" stroke-width="0.3"/>
<polygon points="849.9,580.9 851.4,580.7 852.3,579.8 842.3,574.0 841.4,574.9 839.9,575.1" fill="#dff1e1" stroke="#dff1e1" stroke-width="0.3"/>
<polygon points="852.3,579.8 854.3,577.9 854.7,577.4 844.7,571.6 844.3,572.1 842.3,574.0" fill="#c3e3c7" stroke="#c3e3c7" stroke-width="0.3"/>
<polygon points="854.7,577.4 857.1,575.0 857.1,575.0 847.1,569.2 847.1,569.2 844.7,571.6" fill="#f6fbf6" stroke="#f6fbf6" stroke-width="0.3"/>
<polygon points="862.0,580.8 862.9,581.4 864.4,581.4 854.4,575.6 852.9,575.6 852.0,575.0" fill="#f6fbf6" stroke="#f6fbf6" stroke-width="0.3"/>
<polygon points="864.4,581.4 866.8,581.4 856.8,575.6 854.4,575.6" fill="#f6fbf6" stroke="#f6fbf6" stroke-width="0.3"/>
<polygon points="866.8,581.4 868.6,581.4 869.2,581.3 859.2,575.5 858.6,575.6 856.8,575.6" fill="#f6fbf6" stroke="#f6fbf6" stroke-width="0.3"/>
<polygon points="869.2,581.3 871.7,581.0 861.7,575.2 859.2,575.5" fill="#f6fbf6" stroke="#f6fbf6" stroke-width="0.3"/>
<polygon points="871.7,581.0 874.1,580.7 864.1,574.9 861.7,575.2" fill="#f6fbf6" stroke="#f6fbf6" stroke-width="0.3"/>
<polygon points="874.1,580.7 874.3,580.7 876.5,581.0 866.5,575.2 864.3,574.9 864.1,574.9" fill="#f6fbf6" stroke="#f6fbf6" stroke-width="0.3"/>
<polygon points="876.5,581.0 878.9,581.3 868.9,575.5 866.5,575.2" fill="#f6fbf6" stroke="#f6fbf6" stroke-width="0.3"/>
<polygon points="878.9,581.3 880.0,581.4 881.3,580.9 871.3,575.1 870.0,575.6 868.9,575.5" fill="#f6fbf6" stroke="#f6fbf6" stroke-width="0.3"/>
<polygon points="881.3,580.9 883.6,580.0 883.8,580.1 873.8,574.3 873.6,574.2 871.3,575.1" fill="#f6fbf6" stroke="#f6fbf6" stroke-width="0.3"/>
<polygon points="883.8,580.1 886.2,581.0 876.2,575.2 873.8,574.3" fill="#f6fbf6" stroke="#f6fbf6" stroke-width="0.3"/>
<polygon points="886.2,581.0 887.1,581.4 888.6,579.3 878.6,573.5 877.1,575.6 876.2,575.2" fill="#c3e3c7" stroke="#c3e3c7" stroke-width="0.3"/>
<polygon points="888.6,579.3 890.0,577.1 891.0,574.5 881.0,568.7 880.0,571.3 878.6,573.5" fill="#5cb366" stroke="#5cb366" stroke-width="0.3"/>
<polygon points="891.0,574.5 893.4,568.1 883.4,562.3 881.0,568.7" fill="#47a352" stroke="#47a352" stroke-width="0.3"/>
<polygon points="893.4,568.1 894.3,565.7 895.8,562.1 885.8,556.3 884.3,559.9 883.4,562.3" fill="#47a352" stroke="#47a352" stroke-width="0.3"/>
<polygon points="895.8,562.1 898.2,556.5 888.2,550.7 885.8,556.3" fill="#47a352" stroke="#47a352" stroke-width="0.3"/>
<polygon points="898.2,556.5 898.6,555.7 900.7,551.9 890.7,546.1 888.6,549.9 888.2,550.7" fill="#5cb366" stroke="#5cb366" stroke-width="0.3"/>
<polygon points="900.7,551.9 902.9,547.9 903.1,547.9 893.1,542.1 892.9,542.1 890.7,546.1" fill="#a3d4a9" stroke="#a3d4a9" stroke-width="0.3"/>
<polygon points="903.1,547.9 905.5,548.5 895.5,542.7 893.1,542.1" fill="#c3e3c7" stroke="#c3e3c7" stroke-width="0.3"/>
<polygon points="905.5,548.5 905.7,548.6 907.9,545.9 897.9,540.1 895.7,542.8 895.5,542.7" fill="#c3e3c7" stroke="#c3e3c7" stroke-width="0.3"/>
<polygon points="907.9,545.9 909.3,544.3 910.3,542.2 900.3,536.4 899.3,538.5 897.9,540.1" fill="#80c588" stroke="#80c588" stroke-width="0.3"/>
<polygon points="910.3,542.2 912.8,537.4 902.8,531.6 900.3,536.4" fill="#5cb366" stroke="#5cb366" stroke-width="0.3"/>
<polygon points="912.8,537.4 914.3,534.3 915.2,532.4 905.2,526.6 904.3,528.5 902.8,531.6" fill="#5cb366" stroke="#5cb366" stroke-width="0.3"/>
<polygon points="915.2,532.4 917.6,527.2 907.6,521.4 905.2,526.6" fill="#47a352" stroke="#47a352" stroke-width="0.3"/>
<polygon points="917.6,527.2 920.0,522.0 910.0,516.2 907.6,521.4" fill="#80c588" stroke="#80c588" stroke-width="0.3"/>
<polygon points="920.0,522.0 920.5,520.8 922.4,520.2 912.4,514.4 910.5,515.0 910.0,516.2" fill="#dff1e1" stroke="#dff1e1" stroke-width="0.3"/>
<polygon points="922.4,520.2 924.8,519.4 914.8,513.6 912.4,514.4" fill="#f6fbf6" stroke="#f6fbf6" stroke-width="0.3"/>
<polygon points="924.8,519.4 925.3,519.2 927.3,520.2 917.3,514.4 915.3,513.4 914.8,513.6" fill="#f6fbf6" stroke="#f6fbf6" stroke-width="0.3"/>
<polygon points="944.2,556.2 944.2,556.4 946.6,555.8 936.6,550.0 934.2,550.6 934.2,550.4" fill="#f6fbf6" stroke="#f6fbf6" stroke-width="0.3"/>
<polygon points="946.6,555.8 947.4,555.6 949.0,555.6 939.0,549.8 937.4,549.8 936.6,550.0" fill="#f6fbf6" stroke="#f6fbf6" stroke-width="0.3"/>
<polygon points="965.9,580.4 966.4,580.8 968.4,581.1 958.4,575.3 956.4,575.0 955.9,574.6" fill="#f6fbf6" stroke="#f6fbf6" stroke-width="0.3"/>
<polygon points="968.4,581.1 970.8,581.4 960.8,575.6 958.4,575.3" fill="#f6fbf6" stroke="#f6fbf6" stroke-width="0.3"/>
<polygon points="970.8,581.4 972.7,581.6 973.2,581.6 963.2,575.8 962.7,575.8 960.8,575.6" fill="#f6fbf6" stroke="#f6fbf6" stroke-width="0.3"/>
<polygon points="973.2,581.6 975.6,581.3 965.6,575.5 963.2,575.8" fill="#f6fbf6" stroke="#f6fbf6" stroke-width="0.3"/>
<polygon points="975.6,581.3 978.0,581.1 968.0,575.3 965.6,575.5" fill="#f6fbf6" stroke="#f6fbf6" stroke-width="0.3"/>
<polygon points="978.0,581.1 980.4,580.9 970.4,575.1 968.0,575.3" fill="#f6fbf6" stroke="#f6fbf6" stroke-width="0.3"/>
<polygon points="980.4,580.9 980.6,580.8 982.9,580.3 972.9,574.5 970.6,575.0 970.4,575.1" fill="#f6fbf6" stroke="#f6fbf6" stroke-width="0.3"/>
<polygon points="982.9,580.3 983.7,580.0 985.3,581.1 975.3,575.3 973.7,574.2 972.9,574.5" fill="#f6fbf6" stroke="#f6fbf6" stroke-width="0.3"/>
<polygon points="985.3,581.1 986.1,581.6 987.7,581.6 977.7,575.8 976.1,575.8 975.3,575.3" fill="#f6fbf6" stroke="#f6fbf6" stroke-width="0.3"/>
<polygon points="987.7,581.6 990.1,581.6 980.1,575.8 977.7,575.8" fill="#f6fbf6" stroke="#f6fbf6" stroke-width="0.3"/>
<polygon points="990.1,581.6 992.5,581.6 982.5,575.8 980.1,575.8" fill="#f6fbf6" stroke="#f6fbf6" stroke-width="0.3"/>
<polygon points="992.5,581.6 993.2,581.6 995.0,581.3 985.0,575.5 983.2,575.8 982.5,575.8" fill="#f6fbf6" stroke="#f6fbf6" stroke-width="0.3"/>
<polygon points="995.0,581.3 997.4,580.8 987.4,575.0 985.0,575.5" fill="#f6fbf6" stroke="#f6fbf6" stroke-width="0.3"/>
<polygon points="997.4,580.8 999.8,580.3 989.8,574.5 987.4,575.0" fill="#dff1e1" stroke="#dff1e1" stroke-width="0.3"/>
<polygon points="999.8,580.3 1001.1,580.0 1002.2,579.0 992.2,573.2 991.1,574.2 989.8,574.5" fill="#dff1e1" stroke="#dff1e1" stroke-width="0.3"/>
<polygon points="1002.2,579.0 1004.6,576.5 994.6,570.7 992.2,573.2" fill="#a3d4a9" stroke="#a3d4a9" stroke-width="0.3"/>
<polygon points="1004.6,576.5 1005.9,575.3 1007.0,571.7 997.0,565.9 995.9,569.5 994.6,570.7" fill="#5cb366" stroke="#5cb366" stroke-width="0.3"/>
<polygon points="1007.0,571.7 1009.5,564.5 999.5,558.7 997.0,565.9" fill="#3a8c45" stroke="#3a8c45" stroke-width="0.3"/>
<polygon points="1009.5,564.5 1010.6,561.1 1011.9,556.8 1001.9,551.0 1000.6,555.3 999.5,558.7" fill="#2c8139" stroke="#2c8139" stroke-width="0.3"/>
<polygon points="1011.9,556.8 1014.3,548.7 1004.3,542.9 1001.9,551.0" fill="#2c8139" stroke="#2c8139" stroke-width="0.3"/>
<polygon points="1014.3,548.7 1015.3,545.3 1016.7,540.2 1006.7,534.4 1005.3,539.5 1004.3,542.9" fill="#2c8139" stroke="#2c8139" stroke-width="0.3"/>
<polygon points="1016.7,540.2 1019.1,531.4 1009.1,525.6 1006.7,534.4" fill="#2c8139" stroke="#2c8139" stroke-width="0.3"/>
<polygon points="1019.1,531.4 1020.1,527.9 1021.5,524.6 1011.5,518.8 1010.1,522.1 1009.1,525.6" fill="#3a8c45" stroke="#3a8c45" stroke-width="0.3"/>
<polygon points="1021.5,524.6 1023.2,520.8 1024.0,520.6 1014.0,514.8 1013.2,515.0 1011.5,518.8" fill="#80c588" stroke="#80c588" stroke-width="0.3"/>
<polygon points="1024.0,520.6 1026.4,519.8 1016.4,514.0 1014.0,514.8" fill="#c3e3c7" stroke="#c3e3c7" stroke-width="0.3"/>
<polygon points="1026.4,519.8 1028.0,519.2 1028.8,518.5 1018.8,512.7 1018.0,513.4 1016.4,514.0" fill="#dff1e1" stroke="#dff1e1" stroke-width="0.3"/>
<polygon points="1028.8,518.5 1031.2,516.5 1021.2,510.7 1018.8,512.7" fill="#c3e3c7" stroke="#c3e3c7" stroke-width="0.3"/>
<polygon points="1031.2,516.5 1032.7,515.3 1033.6,515.1 1023.6,509.3 1022.7,509.5 1021.2,510.7" fill="#dff1e1" stroke="#dff1e1" stroke-width="0.3"/>
<polygon points="1033.6,515.1 1036.0,514.6 1026.0,508.8 1023.6,509.3" fill="#dff1e1" stroke="#dff1e1" stroke-width="0.3"/>
<polygon points="1036.0,514.6 1036.7,514.5 1038.5,513.3 1028.5,507.5 1026.7,508.7 1026.0,508.8" fill="#f6fbf6" stroke="#f6fbf6" stroke-width="0.3"/>
<polygon points="1043.3,517.4 1045.7,515.6 1035.7,509.8 1033.3,511.6" fill="#f6fbf6" stroke="#f6fbf6" stroke-width="0.3"/>
<polygon points="1045.7,515.6 1046.1,515.3 1048.1,515.9 1038.1,510.1 1036.1,509.5 1035.7,509.8" fill="#f6fbf6" stroke="#f6fbf6" stroke-width="0.3"/>
<polygon points="1055.4,528.1 1057.8,529.1 1047.8,523.3 1045.4,522.3" fill="#f6fbf6" stroke="#f6fbf6" stroke-width="0.3"/>
<polygon points="1062.6,537.5 1065.1,537.9 1055.1,532.1 1052.6,531.7" fill="#f6fbf6" stroke="#f6fbf6" stroke-width="0.3"/>
<polygon points="1074.7,558.1 1077.1,558.7 1077.1,558.8 1067.1,553.0 1067.1,552.9 1064.7,552.3" fill="#f6fbf6" stroke="#f6fbf6" stroke-width="0.3"/>
<polygon points="1084.4,572.1 1086.8,571.5 1076.8,565.7 1074.4,566.3" fill="#f6fbf6" stroke="#f6fbf6" stroke-width="0.3"/>
<polygon points="1096.5,580.9 1098.9,581.2 1088.9,575.4 1086.5,575.1" fill="#f6fbf6" stroke="#f6fbf6" stroke-width="0.3"/>
<polygon points="1098.9,581.2 1101.3,581.4 1091.3,575.6 1088.9,575.4" fill="#f6fbf6" stroke="#f6fbf6" stroke-width="0.3"/>
<polygon points="1101.3,581.4 1103.2,581.6 1103.7,581.6 1093.7,575.8 1093.2,575.8 1091.3,575.6" fill="#f6fbf6" stroke="#f6fbf6" stroke-width="0.3"/>
<polygon points="1103.7,581.6 1106.2,581.3 1096.2,575.5 1093.7,575.8" fill="#f6fbf6" stroke="#f6fbf6" stroke-width="0.3"/>
<polygon points="1106.2,581.3 1108.6,581.0 1098.6,575.2 1096.2,575.5" fill="#f6fbf6" stroke="#f6fbf6" stroke-width="0.3"/>
<polygon points="1108.6,581.0 1109.5,580.8 1111.0,581.6 1101.0,575.8 1099.5,575.0 1098.6,575.2" fill="#f6fbf6" stroke="#f6fbf6" stroke-width="0.3"/>
<polygon points="1111.0,581.6 1112.7,582.4 1113.4,582.3 1103.4,576.5 1102.7,576.6 1101.0,575.8" fill="#f6fbf6" stroke="#f6fbf6" stroke-width="0.3"/>
<polygon points="1113.4,582.3 1115.8,581.9 1105.8,576.1 1103.4,576.5" fill="#f6fbf6" stroke="#f6fbf6" stroke-width="0.3"/>
<polygon points="1115.8,581.9 1117.4,581.6 1118.2,581.5 1108.2,575.7 1107.4,575.8 1105.8,576.1" fill="#f6fbf6" stroke="#f6fbf6" stroke-width="0.3"/>
<polygon points="1118.2,581.5 1120.7,581.1 1110.7,575.3 1108.2,575.7" fill="#f6fbf6" stroke="#f6fbf6" stroke-width="0.3"/>
<polygon points="1120.7,581.1 1122.2,580.8 1123.1,580.1 1113.1,574.3 1112.2,575.0 1110.7,575.3" fill="#dff1e1" stroke="#dff1e1" stroke-width="0.3"/>
<polygon points="1123.1,580.1 1125.5,578.2 1115.5,572.4 1113.1,574.3" fill="#c3e3c7" stroke="#c3e3c7" stroke-width="0.3"/>
<polygon points="1125.5,578.2 1126.1,577.7 1127.9,576.8 1117.9,571.0 1116.1,571.9 1115.5,572.4" fill="#f6fbf6" stroke="#f6fbf6" stroke-width="0.3"/>
<polygon points="1132.8,580.4 1135.2,581.2 1125.2,575.4 1122.8,574.6" fill="#f6fbf6" stroke="#f6fbf6" stroke-width="0.3"/>
<polygon points="1135.2,581.2 1136.4,581.6 1137.6,581.6 1127.6,575.8 1126.4,575.8 1125.2,575.4" fill="#f6fbf6" stroke="#f6fbf6" stroke-width="0.3"/>
<polygon points="1137.6,581.6 1140.0,581.6 1130.0,575.8 1127.6,575.8" fill="#f6fbf6" stroke="#f6fbf6" stroke-width="0.3"/>
<polygon points="1140.0,581.6 1142.4,581.6 1132.4,575.8 1130.0,575.8" fill="#f6fbf6" stroke="#f6fbf6" stroke-width="0.3"/>
<polygon points="1142.4,581.6 1144.3,581.6 1144.8,581.6 1134.8,575.8 1134.3,575.8 1132.4,575.8" fill="#f6fbf6" stroke="#f6fbf6" stroke-width="0.3"/>
<polygon points="1144.8,581.6 1147.2,581.6 1137.2,575.8 1134.8,575.8" fill="#f6fbf6" stroke="#f6fbf6" stroke-width="0.3"/>
<polygon points="1147.2,581.6 1149.7,581.6 1139.7,575.8 1137.2,575.8" fill="#f6fbf6" stroke="#f6fbf6" stroke-width="0.3"/>
<polygon points="1149.7,581.6 1152.1,581.6 1142.1,575.8 1139.7,575.8" fill="#f6fbf6" stroke="#f6fbf6" stroke-width="0.3"/>
<polygon points="1152.1,581.6 1153.7,581.6 1154.5,581.6 1144.5,575.8 1143.7,575.8 1142.1,575.8" fill="#f6fbf6" stroke="#f6fbf6" stroke-width="0.3"/>
<polygon points="1154.5,581.6 1156.9,581.5 1146.9,575.7 1144.5,575.8" fill="#f6fbf6" stroke="#f6fbf6" stroke-width="0.3"/>
<polygon points="1156.9,581.5 1159.3,581.4 1149.3,575.6 1146.9,575.7" fill="#f6fbf6" stroke="#f6fbf6" stroke-width="0.3"/>
<polygon points="1159.3,581.4 1161.8,581.4 1151.8,575.6 1149.3,575.6" fill="#f6fbf6" stroke="#f6fbf6" stroke-width="0.3"/>
<polygon points="1161.8,581.4 1163.2,581.3 1164.2,581.0 1154.2,575.2 1153.2,575.5 1151.8,575.6" fill="#f6fbf6" stroke="#f6fbf6" stroke-width="0.3"/>
<polygon points="1164.2,581.0 1166.0,580.4 1156.0,574.6 1154.2,575.2" fill="#dff1e1" stroke="#dff1e1" stroke-width="0.3"/>
<polygon points="1166.0,580.4 1166.7,580.2 1156.7,574.4 1156.0,574.6" fill="#f6fbf6" stroke="#f6fbf6" stroke-width="0.8"/>
<polygon points="1166.7,580.2 1167.4,580.0 1157.4,574.2 1156.7,574.4" fill="#f6fbf6" stroke="#f6fbf6" stroke-width="0.8"/>
<polygon points="1167.4,580.0 1168.1,579.7 1158.1,573.9 1157.4,574.2" fill="#f6fbf6" stroke="#f6fbf6" stroke-width="0.8"/>
<polygon points="1168.1,579.7 1168.8,579.5 1158.8,573.7 1158.1,573.9" fill="#dff1e1" stroke="#dff1e1" stroke-width="0.8"/>
<polygon points="1168.8,579.5 1169.5,579.3 1159.5,573.5 1158.8,573.7" fill="#dff1e1" stroke="#dff1e1" stroke-width="0.8"/>
<polygon points="1169.5,579.3 1169.5,579.3 1170.2,578.1 1160.2,572.3 1159.5,573.5 1159.5,573.5" fill="#dff1e1" stroke="#dff1e1" stroke-width="0.8"/>
<polygon points="1170.2,578.1 1170.9,576.8 1160.9,571.0 1160.2,572.3" fill="#dff1e1" stroke="#dff1e1" stroke-width="0.8"/>
<polygon points="1170.9,576.8 1171.6,575.6 1161.6,569.8 1160.9,571.0" fill="#24502b" stroke="#24502b" stroke-width="0.8"/>
<polygon points="1171.6,575.6 1172.3,574.3 1162.3,568.5 1161.6,569.8" fill="#24502b" stroke="#24502b" stroke-width="0.8"/>
<polygon points="1172.3,574.3 1173.0,573.0 1163.0,567.2 1162.3,568.5" fill="#24502b" stroke="#24502b" stroke-width="0.8"/>
<polygon points="1173.0,573.0 1173.5,572.1 1173.7,571.3 1163.7,565.5 1163.5,566.4 1163.0,567.2" fill="#24502b" stroke="#24502b" stroke-width="0.8"/>
<polygon points="1173.7,571.3 1174.4,568.5 1164.4,562.7 1163.7,565.5" fill="#24502b" stroke="#24502b" stroke-width="0.8"/>
<polygon points="1174.4,568.5 1175.1,565.7 1165.1,559.9 1164.4,562.7" fill="#b9e2be" stroke="#b9e2be" stroke-width="0.8"/>
<polygon points="1175.1,565.7 1175.8,562.9 1165.8,557.1 1165.1,559.9" fill="#15241a" stroke="#15241a" stroke-width="0.8"/>
<polygon points="1175.8,562.9 1176.5,560.1 1166.5,554.3 1165.8,557.1" fill="#15241a" stroke="#15241a" stroke-width="0.8"/>
<polygon points="1176.5,560.1 1176.7,559.5 1177.2,556.8 1167.2,551.0 1166.7,553.7 1166.5,554.3" fill="#15241a" stroke="#15241a" stroke-width="0.8"/>
<polygon points="1177.2,556.8 1177.9,553.3 1167.9,547.5 1167.2,551.0" fill="#15241a" stroke="#15241a" stroke-width="0.8"/>
<polygon points="1177.9,553.3 1178.6,549.8 1168.6,544.0 1167.9,547.5" fill="#15241a" stroke="#15241a" stroke-width="0.8"/>
<polygon points="1178.6,549.8 1179.0,547.7 1179.3,547.6 1169.3,541.8 1169.0,541.9 1168.6,544.0" fill="#15241a" stroke="#15241a" stroke-width="0.8"/>
<polygon points="1179.3,547.6 1181.1,547.1 1171.1,541.3 1169.3,541.8" fill="#15241a" stroke="#15241a" stroke-width="0.8"/>
<polygon points="1181.1,547.1 1182.2,546.9 1183.5,548.0 1173.5,542.2 1172.2,541.1 1171.1,541.3" fill="#f6fbf6" stroke="#f6fbf6" stroke-width="0.3"/>
<polygon points="1200.4,579.2 1201.2,580.3 1202.9,580.5 1192.9,574.7 1191.2,574.5 1190.4,573.4" fill="#f6fbf6" stroke="#f6fbf6" stroke-width="0.3"/>
<polygon points="1202.9,580.5 1205.3,580.7 1195.3,574.9 1192.9,574.7" fill="#f6fbf6" stroke="#f6fbf6" stroke-width="0.3"/>
<polygon points="1205.3,580.7 1207.7,581.0 1197.7,575.2 1195.3,574.9" fill="#f6fbf6" stroke="#f6fbf6" stroke-width="0.3"/>
<polygon points="1207.7,581.0 1207.8,581.0 1210.1,581.0 1200.1,575.2 1197.8,575.2 1197.7,575.2" fill="#f6fbf6" stroke="#f6fbf6" stroke-width="0.3"/>
<polygon points="1210.1,581.0 1212.5,581.0 1202.5,575.2 1200.1,575.2" fill="#f6fbf6" stroke="#f6fbf6" stroke-width="0.3"/>
<polygon points="1212.5,581.0 1214.9,581.0 1204.9,575.2 1202.5,575.2" fill="#f6fbf6" stroke="#f6fbf6" stroke-width="0.3"/>
<polygon points="1214.9,581.0 1217.4,581.0 1207.4,575.2 1204.9,575.2" fill="#f6fbf6" stroke="#f6fbf6" stroke-width="0.3"/>
<polygon points="1217.4,581.0 1217.4,581.0 1207.4,575.2 1207.4,575.2" fill="#f6fbf6" stroke="#f6fbf6" stroke-width="0.3"/>
<path d="M81.1 580.9 l-10.0 -5.8 M86.0 578.1 l-10.0 -5.8 M90.8 575.7 l-10.0 -5.8 M95.6 572.8 l-10.0 -5.8 M105.3 575.1 l-10.0 -5.8 M110.1 576.3 l-10.0 -5.8 M115.0 575.9 l-10.0 -5.8 M119.8 575.9 l-10.0 -5.8 M124.7 569.1 l-10.0 -5.8 M134.3 574.4 l-10.0 -5.8 M139.2 575.4 l-10.0 -5.8 M144.0 575.7 l-10.0 -5.8 M148.8 574.9 l-10.0 -5.8 M153.7 574.0 l-10.0 -5.8 M158.5 574.0 l-10.0 -5.8 M163.3 574.4 l-10.0 -5.8 M168.2 573.7 l-10.0 -5.8 M173.0 572.3 l-10.0 -5.8 M177.8 570.2 l-10.0 -5.8 M182.7 566.1 l-10.0 -5.8 M187.5 556.4 l-10.0 -5.8 M192.3 547.5 l-10.0 -5.8 M197.2 538.8 l-10.0 -5.8 M202.0 530.1 l-10.0 -5.8 M206.8 522.6 l-10.0 -5.8 M216.5 525.0 l-10.0 -5.8 M221.4 526.4 l-10.0 -5.8 M226.2 527.9 l-10.0 -5.8 M231.0 529.5 l-10.0 -5.8 M245.5 537.2 l-10.0 -5.8 M279.4 570.7 l-10.0 -5.8 M293.9 581.7 l-10.0 -5.8 M298.7 582.1 l-10.0 -5.8 M303.5 582.1 l-10.0 -5.8 M308.4 581.8 l-10.0 -5.8 M313.2 580.5 l-10.0 -5.8 M318.1 578.8 l-10.0 -5.8 M322.9 580.7 l-10.0 -5.8 M327.7 578.0 l-10.0 -5.8 M332.6 580.5 l-10.0 -5.8 M337.4 581.6 l-10.0 -5.8 M342.2 582.1 l-10.0 -5.8 M347.1 582.1 l-10.0 -5.8 M351.9 581.7 l-10.0 -5.8 M356.7 580.9 l-10.0 -5.8 M361.6 578.5 l-10.0 -5.8 M366.4 576.7 l-10.0 -5.8 M371.2 570.8 l-10.0 -5.8 M376.1 565.0 l-10.0 -5.8 M380.9 561.0 l-10.0 -5.8 M385.7 561.4 l-10.0 -5.8 M390.6 556.1 l-10.0 -5.8 M395.4 550.4 l-10.0 -5.8 M424.4 582.0 l-10.0 -5.8 M429.3 581.8 l-10.0 -5.8 M434.1 581.3 l-10.0 -5.8 M438.9 580.8 l-10.0 -5.8 M443.8 579.5 l-10.0 -5.8 M448.6 580.7 l-10.0 -5.8 M453.4 580.7 l-10.0 -5.8 M458.3 579.9 l-10.0 -5.8 M463.1 579.1 l-10.0 -5.8 M467.9 578.6 l-10.0 -5.8 M472.8 577.7 l-10.0 -5.8 M477.6 574.4 l-10.0 -5.8 M482.4 565.8 l-10.0 -5.8 M487.3 554.0 l-10.0 -5.8 M492.1 543.2 l-10.0 -5.8 M496.9 533.8 l-10.0 -5.8 M521.1 563.4 l-10.0 -5.8 M526.0 563.1 l-10.0 -5.8 M535.6 567.9 l-10.0 -5.8 M540.5 569.0 l-10.0 -5.8 M545.3 569.6 l-10.0 -5.8 M550.1 569.1 l-10.0 -5.8 M555.0 567.1 l-10.0 -5.8 M559.8 556.2 l-10.0 -5.8 M564.6 544.1 l-10.0 -5.8 M569.5 533.5 l-10.0 -5.8 M574.3 523.9 l-10.0 -5.8 M579.1 514.8 l-10.0 -5.8 M584.0 505.8 l-10.0 -5.8 M588.8 496.7 l-10.0 -5.8 M593.6 487.7 l-10.0 -5.8 M613.0 511.5 l-10.0 -5.8 M617.8 511.1 l-10.0 -5.8 M646.8 569.8 l-10.0 -5.8 M651.7 571.2 l-10.0 -5.8 M656.5 572.0 l-10.0 -5.8 M661.3 572.4 l-10.0 -5.8 M666.2 572.8 l-10.0 -5.8 M671.0 572.2 l-10.0 -5.8 M675.8 571.2 l-10.0 -5.8 M680.7 561.3 l-10.0 -5.8 M685.5 551.2 l-10.0 -5.8 M690.3 546.5 l-10.0 -5.8 M695.2 537.6 l-10.0 -5.8 M719.4 570.5 l-10.0 -5.8 M724.2 567.6 l-10.0 -5.8 M733.9 574.0 l-10.0 -5.8 M738.7 568.3 l-10.0 -5.8 M748.4 574.2 l-10.0 -5.8 M753.2 574.5 l-10.0 -5.8 M758.0 574.9 l-10.0 -5.8 M762.9 574.0 l-10.0 -5.8 M767.7 572.0 l-10.0 -5.8 M772.5 568.8 l-10.0 -5.8 M782.2 575.3 l-10.0 -5.8 M787.0 575.5 l-10.0 -5.8 M791.9 575.7 l-10.0 -5.8 M796.7 572.8 l-10.0 -5.8 M806.4 576.1 l-10.0 -5.8 M811.2 577.4 l-10.0 -5.8 M820.9 581.8 l-10.0 -5.8 M825.7 581.9 l-10.0 -5.8 M830.6 581.5 l-10.0 -5.8 M835.4 581.4 l-10.0 -5.8 M840.2 581.4 l-10.0 -5.8 M845.1 581.4 l-10.0 -5.8 M849.9 580.9 l-10.0 -5.8 M854.7 577.4 l-10.0 -5.8 M864.4 581.4 l-10.0 -5.8 M869.2 581.3 l-10.0 -5.8 M874.1 580.7 l-10.0 -5.8 M878.9 581.3 l-10.0 -5.8 M883.7 580.1 l-10.0 -5.8 M888.6 579.3 l-10.0 -5.8 M893.4 568.0 l-10.0 -5.8 M898.2 556.5 l-10.0 -5.8 M903.1 547.9 l-10.0 -5.8 M907.9 545.9 l-10.0 -5.8 M912.8 537.4 l-10.0 -5.8 M917.6 527.2 l-10.0 -5.8 M922.4 520.2 l-10.0 -5.8 M946.6 555.8 l-10.0 -5.8 M970.8 581.4 l-10.0 -5.8 M975.6 581.3 l-10.0 -5.8 M980.4 580.9 l-10.0 -5.8 M985.3 581.1 l-10.0 -5.8 M990.1 581.6 l-10.0 -5.8 M994.9 581.3 l-10.0 -5.8 M999.8 580.3 l-10.0 -5.8 M1004.6 576.5 l-10.0 -5.8 M1009.5 564.5 l-10.0 -5.8 M1014.3 548.7 l-10.0 -5.8 M1019.1 531.3 l-10.0 -5.8 M1024.0 520.6 l-10.0 -5.8 M1028.8 518.5 l-10.0 -5.8 M1033.6 515.1 l-10.0 -5.8 M1038.5 513.3 l-10.0 -5.8 M1043.3 517.4 l-10.0 -5.8 M1086.8 571.5 l-10.0 -5.8 M1101.3 581.4 l-10.0 -5.8 M1106.2 581.3 l-10.0 -5.8 M1111.0 581.6 l-10.0 -5.8 M1115.8 581.9 l-10.0 -5.8 M1120.7 581.1 l-10.0 -5.8 M1125.5 578.2 l-10.0 -5.8 M1135.2 581.2 l-10.0 -5.8 M1140.0 581.6 l-10.0 -5.8 M1144.8 581.6 l-10.0 -5.8 M1149.7 581.6 l-10.0 -5.8 M1154.5 581.6 l-10.0 -5.8 M1159.3 581.4 l-10.0 -5.8 M1164.2 581.0 l-10.0 -5.8 M1202.9 580.5 l-10.0 -5.8 M1207.7 581.0 l-10.0 -5.8 M1212.5 581.0 l-10.0 -5.8 M1217.4 581.0 l-10.0 -5.8 M77.9 582.9 l-10.0 -5.8" fill="none" stroke="#15301a" stroke-width="0.7"/>
<path d="M77.9 582.9 l-10.0 -5.8 M67.9 577.1 L68.7 576.5 L71.1 575.1 L71.4 574.9 L72.9 572.1 L73.5 572.3 L75.0 572.8 L76.0 572.3 L78.4 571.1 L80.7 569.9 L80.8 569.9 L83.2 568.4 L85.6 567.0 L87.9 565.6 L88.1 565.7 L98.1 571.5 M102.1 575.7 l-10.0 -5.8 M92.1 569.9 L92.9 569.8 L95.3 569.3 L95.7 569.2 L97.7 570.0 L99.3 570.6 L100.1 570.5 L102.6 570.2 L104.3 569.9 L105.0 570.1 L107.4 570.9 L108.6 571.3 L109.8 570.1 L111.4 568.5 L112.2 567.2 L114.7 563.3 L115.0 562.8 L117.1 562.5 L127.1 568.3 M133.6 574.3 l-10.0 -5.8 M123.6 568.5 L124.3 568.6 L126.7 569.0 L127.9 569.2 L129.2 569.6 L130.0 569.9 L131.6 569.9 L134.0 569.9 L135.7 569.9 L136.4 569.7 L138.8 569.1 L141.2 568.5 L141.4 568.5 L143.7 568.2 L146.1 567.9 L147.1 567.8 L148.5 568.2 L150.0 568.8 L150.9 568.7 L153.3 568.6 L155.7 568.5 L155.8 568.5 L158.2 567.9 L160.6 567.3 L161.4 567.1 L163.0 566.5 L165.4 565.6 L167.1 564.9 L167.8 564.4 L170.2 562.7 L172.1 561.3 L172.7 560.3 L175.1 555.4 L177.5 550.6 L178.6 548.5 L179.9 546.1 L182.3 541.7 L184.8 537.3 L185.7 535.6 L187.2 533.0 L189.6 528.7 L192.0 524.3 L192.9 522.8 L194.4 520.4 L196.8 516.8 L198.6 514.2 L199.3 514.9 L199.3 514.9 L209.3 520.7 M214.1 524.2 l-10.0 -5.8 M204.1 518.4 L204.3 518.5 L206.5 519.2 L208.9 519.9 L211.3 520.6 L211.4 520.6 L213.8 521.3 L216.2 522.1 L218.6 522.8 L218.6 522.8 L221.0 523.7 L223.4 524.6 L224.3 524.9 L234.3 530.7 M244.3 537.9 l-10.0 -5.8 M234.3 532.1 L235.5 531.4 L237.1 530.6 L247.1 536.4 M269.7 562.9 l-10.0 -5.8 M259.7 557.1 L269.7 562.9 M279.4 570.7 l-10.0 -5.8 M269.4 564.9 L271.4 564.2 L271.8 564.6 L281.8 570.4 M291.4 581.4 l-10.0 -5.8 M281.4 575.6 L281.5 575.6 L283.9 575.9 L286.3 576.1 L288.6 576.3 L288.7 576.3 L291.1 576.3 L293.6 576.3 L295.7 576.3 L296.0 576.3 L298.4 576.0 L300.8 575.7 L301.4 575.6 L303.2 574.7 L304.3 574.2 L305.6 573.2 L307.1 572.1 L317.1 577.9 M320.0 580.7 l-10.0 -5.8 M310.0 574.9 L310.5 574.9 L312.9 574.9 L314.3 574.9 L315.3 574.1 L317.7 572.2 L317.9 572.1 L327.9 577.9 M330.7 580.0 l-10.0 -5.8 M320.7 574.2 L322.6 574.7 L325.0 575.4 L325.7 575.6 L327.4 575.8 L329.8 576.0 L332.2 576.3 L332.9 576.3 L334.6 576.3 L337.1 576.3 L337.1 576.3 L339.5 576.1 L341.9 575.9 L344.3 575.7 L345.7 575.6 L346.7 575.1 L349.1 573.9 L351.4 572.8 L351.6 572.7 L354.0 571.8 L356.4 570.9 L357.1 570.6 L358.8 568.3 L361.2 565.0 L362.9 562.8 L363.6 561.9 L366.1 559.2 L368.5 556.4 L368.6 556.3 L370.9 555.2 L371.4 554.9 L373.3 555.7 L375.0 556.3 L375.7 555.6 L378.2 553.2 L379.3 552.1 L380.6 550.3 L383.0 547.0 L385.0 544.2 L385.4 544.6 L395.4 550.4 M419.6 581.5 l-10.0 -5.8 M409.6 575.7 L412.0 575.9 L414.4 576.2 L415.7 576.3 L416.8 576.2 L419.2 576.0 L421.7 575.7 L422.9 575.6 L424.1 575.5 L426.5 575.3 L428.9 575.0 L430.0 574.9 L431.3 574.2 L432.9 573.5 L433.8 573.7 L436.2 574.3 L438.6 574.9 L438.6 574.9 L441.0 574.9 L443.4 574.9 L444.3 574.9 L445.9 574.6 L448.3 574.1 L450.7 573.6 L451.4 573.5 L453.1 573.3 L455.5 573.1 L457.9 572.8 L458.6 572.8 L460.4 572.4 L462.8 571.9 L465.2 571.4 L465.7 571.3 L467.6 568.6 L470.0 565.2 L470.7 564.2 L472.4 560.0 L474.9 554.1 L477.1 548.5 L477.3 548.2 L479.7 542.8 L482.1 537.4 L483.6 534.2 L484.5 532.3 L486.4 528.5 L486.9 528.0 L487.9 527.2 L489.4 527.5 L499.4 533.3 M519.5 563.0 l-10.0 -5.8 M509.5 557.2 L511.1 557.6 L513.5 558.1 L514.2 558.2 L516.0 557.3 L517.9 556.3 L527.9 562.1 M533.2 567.2 l-10.0 -5.8 M523.2 561.4 L525.6 562.1 L528.0 562.8 L528.3 562.9 L530.5 563.2 L532.9 563.5 L535.3 563.8 L535.8 563.8 L537.7 563.6 L540.1 563.3 L542.5 563.1 L544.2 562.9 L545.0 561.3 L547.4 556.0 L549.0 552.6 L549.8 550.4 L552.2 544.4 L554.6 538.4 L556.5 533.8 L557.0 532.6 L559.5 527.7 L561.9 522.9 L564.0 518.7 L564.3 518.1 L566.7 513.6 L569.1 509.0 L571.5 504.6 L571.6 504.5 L574.0 500.0 L576.4 495.4 L578.8 490.9 L579.0 490.5 L581.2 486.4 L583.6 481.9 L585.6 478.3 L586.1 478.9 L596.1 484.7 M610.6 510.7 l-10.0 -5.8 M600.6 504.9 L603.0 505.7 L605.3 506.5 L605.4 506.5 L607.8 505.2 L617.8 511.1 M644.4 568.6 l-10.0 -5.8 M634.4 562.8 L636.8 564.0 L638.6 564.9 L639.2 565.0 L641.7 565.4 L644.1 565.8 L646.5 566.2 L647.1 566.3 L648.9 566.5 L651.3 566.6 L653.8 566.8 L656.2 567.0 L657.1 567.1 L658.6 566.8 L661.0 566.4 L663.4 566.0 L665.7 565.6 L665.8 565.4 L668.3 560.5 L670.0 557.1 L670.7 555.5 L673.1 550.0 L675.0 545.6 L675.5 545.4 L677.9 544.5 L678.6 544.2 L680.3 540.7 L682.8 535.8 L682.9 535.6 L685.2 531.8 L687.1 528.5 L687.6 529.2 L697.6 535.0 M719.4 570.5 l-10.0 -5.8 M709.4 564.7 L710.0 564.9 L711.8 563.6 L714.2 561.8 L715.7 560.6 L716.6 561.3 L726.6 567.1 M733.9 574.0 l-10.0 -5.8 M723.9 568.2 L725.7 568.5 L726.3 567.4 L728.7 562.5 L729.3 561.3 L731.1 558.9 L731.4 558.5 L741.4 564.3 M748.4 574.2 l-10.0 -5.8 M738.4 568.4 L740.0 569.2 L740.8 569.1 L743.2 568.7 L744.3 568.5 L745.6 568.8 L747.9 569.2 L748.0 569.1 L750.5 567.9 L750.7 567.8 L752.9 568.2 L754.3 568.5 L755.3 567.8 L757.7 566.2 L758.6 565.6 L760.1 564.6 L762.5 563.0 L762.9 562.8 L772.9 568.6 M778.6 575.7 l-10.0 -5.8 M768.6 569.9 L769.8 569.8 L772.2 569.5 L774.3 569.2 L774.6 569.3 L777.0 569.7 L778.6 569.9 L779.5 569.9 L781.9 569.9 L784.3 569.9 L784.3 569.9 L786.7 567.0 L787.9 565.6 L797.9 571.4 M801.4 573.6 l-10.0 -5.8 M791.4 567.8 L791.5 567.8 L794.0 569.0 L796.4 570.2 L797.1 570.6 L798.8 571.0 L801.2 571.7 L802.9 572.1 L803.6 571.8 L805.0 571.3 L815.0 577.1 M820.9 581.8 l-10.0 -5.8 M810.9 576.0 L812.9 576.3 L813.3 576.3 L815.7 576.1 L818.1 575.9 L820.6 575.7 L821.4 575.6 L823.0 575.6 L825.4 575.6 L827.8 575.6 L828.6 575.6 L830.2 575.6 L832.6 575.6 L835.1 575.6 L835.7 575.6 L837.5 575.4 L839.9 575.1 L841.4 574.9 L842.3 574.0 L844.3 572.1 L844.7 571.6 L847.1 569.2 L847.1 569.2 L857.1 575.0 M862.9 581.4 l-10.0 -5.8 M852.9 575.6 L854.4 575.6 L856.8 575.6 L858.6 575.6 L859.2 575.5 L861.7 575.2 L864.1 574.9 L864.3 574.9 L866.5 575.2 L868.9 575.5 L870.0 575.6 L871.3 575.1 L873.6 574.2 L873.8 574.3 L876.2 575.2 L877.1 575.6 L878.6 573.5 L880.0 571.3 L881.0 568.7 L883.4 562.3 L884.3 559.9 L885.8 556.3 L888.2 550.7 L888.6 549.9 L890.7 546.1 L892.9 542.1 L893.1 542.1 L895.5 542.7 L895.7 542.8 L897.9 540.1 L899.3 538.5 L900.3 536.4 L902.8 531.6 L904.3 528.5 L905.2 526.6 L907.6 521.4 L910.0 516.2 L910.5 515.0 L912.4 514.4 L914.8 513.6 L915.3 513.4 L917.3 514.4 L927.3 520.2 M946.6 555.8 l-10.0 -5.8 M936.6 550.0 L937.4 549.8 L939.0 549.8 L949.0 555.6 M968.4 581.1 l-10.0 -5.8 M958.4 575.3 L960.8 575.6 L962.7 575.8 L963.2 575.8 L965.6 575.5 L968.0 575.3 L970.4 575.1 L970.6 575.0 L972.9 574.5 L973.7 574.2 L975.3 575.3 L976.1 575.8 L977.7 575.8 L980.1 575.8 L982.5 575.8 L983.2 575.8 L985.0 575.5 L987.4 575.0 L989.8 574.5 L991.1 574.2 L992.2 573.2 L994.6 570.7 L995.9 569.5 L997.0 565.9 L999.5 558.7 L1000.6 555.3 L1001.9 551.0 L1004.3 542.9 L1005.3 539.5 L1006.7 534.4 L1009.1 525.6 L1010.1 522.1 L1011.5 518.8 L1013.2 515.0 L1014.0 514.8 L1016.4 514.0 L1018.0 513.4 L1018.8 512.7 L1021.2 510.7 L1022.7 509.5 L1023.6 509.3 L1026.0 508.8 L1026.7 508.7 L1028.5 507.5 L1029.0 507.1 L1039.0 512.9 M1043.0 517.6 l-10.0 -5.8 M1033.0 511.8 L1033.3 511.6 L1035.7 509.8 L1036.1 509.5 L1046.1 515.3 M1057.8 529.1 l-10.0 -5.8 M1047.8 523.3 L1057.8 529.1 M1065.1 537.9 l-10.0 -5.8 M1055.1 532.1 L1065.1 537.9 M1084.4 572.1 l-10.0 -5.8 M1074.4 566.3 L1076.8 565.7 L1086.8 571.5 M1091.7 576.1 l-10.0 -5.8 M1081.7 570.3 L1091.7 576.1 M1098.9 581.2 l-10.0 -5.8 M1088.9 575.4 L1091.3 575.6 L1093.2 575.8 L1093.7 575.8 L1096.2 575.5 L1098.6 575.2 L1099.5 575.0 L1101.0 575.8 L1102.7 576.6 L1103.4 576.5 L1105.8 576.1 L1107.4 575.8 L1108.2 575.7 L1110.7 575.3 L1112.2 575.0 L1113.1 574.3 L1115.5 572.4 L1116.1 571.9 L1117.9 571.0 L1118.5 570.8 L1128.5 576.6 M1132.8 580.4 l-10.0 -5.8 M1122.8 574.6 L1125.2 575.4 L1126.4 575.8 L1127.6 575.8 L1130.0 575.8 L1132.4 575.8 L1134.3 575.8 L1134.8 575.8 L1137.2 575.8 L1139.7 575.8 L1142.1 575.8 L1143.7 575.8 L1144.5 575.8 L1146.9 575.7 L1149.3 575.6 L1151.8 575.6 L1153.2 575.5 L1154.2 575.2 L1156.0 574.6 L1156.7 574.4 L1157.4 574.2 L1158.1 573.9 L1158.8 573.7 L1159.5 573.5 L1159.5 573.5 L1160.2 572.3 L1160.9 571.0 L1161.6 569.8 L1162.3 568.5 L1163.0 567.2 L1163.5 566.4 L1163.7 565.5 L1164.4 562.7 L1165.1 559.9 L1165.8 557.1 L1166.5 554.3 L1166.7 553.7 L1167.2 551.0 L1167.9 547.5 L1168.6 544.0 L1169.0 541.9 L1169.3 541.8 L1171.1 541.3 L1172.2 541.1 L1182.2 546.9 M1202.9 580.5 l-10.0 -5.8 M1192.9 574.7 L1195.3 574.9 L1197.7 575.2 L1197.8 575.2 L1200.1 575.2 L1202.5 575.2 L1204.9 575.2 L1207.4 575.2 L1207.4 575.2" fill="none" stroke="#0a140c" stroke-width="1.1"/>
</g>
<path d="M77.9 582.9 L81.4 580.7 L82.9 577.9 L85.0 578.6 L90.7 575.7 L97.9 571.4 L99.3 572.1 L102.1 575.7 L105.7 575.0 L109.3 576.4 L114.3 575.7 L118.6 577.1 L121.4 574.3 L125.0 568.6 L127.1 568.3 L130.0 572.1 L133.6 574.3 L137.9 575.0 L140.0 575.7 L145.7 575.7 L151.4 574.3 L157.1 573.6 L160.0 574.6 L165.7 574.3 L171.4 572.9 L177.1 570.7 L182.1 567.1 L188.6 554.3 L195.7 541.4 L202.9 528.6 L208.6 520.0 L209.3 520.7 L214.3 524.3 L221.4 526.4 L228.6 528.6 L234.3 530.7 L240.0 534.3 L244.3 537.9 L247.1 536.4 L251.4 540.0 L257.1 545.7 L261.4 551.4 L263.6 552.9 L265.7 557.9 L268.6 562.9 L271.4 562.9 L274.3 567.1 L277.1 571.4 L281.4 570.0 L284.3 572.9 L287.9 577.9 L291.4 581.4 L298.6 582.1 L305.7 582.1 L311.4 581.4 L314.3 580.0 L317.1 577.9 L320.0 580.7 L324.3 580.7 L327.9 577.9 L330.7 580.0 L335.7 581.4 L342.9 582.1 L347.1 582.1 L355.7 581.4 L361.4 578.6 L367.1 576.4 L372.9 568.6 L378.6 562.1 L381.4 560.7 L385.0 562.1 L389.3 557.9 L395.0 550.0 L400.0 554.3 L405.7 561.4 L411.4 570.0 L415.7 577.1 L419.3 581.4 L425.7 582.1 L432.9 581.4 L440.0 580.7 L442.9 579.3 L448.6 580.7 L454.3 580.7 L461.4 579.3 L468.6 578.6 L475.7 577.1 L480.7 570.0 L487.1 554.3 L493.6 540.0 L496.4 534.3 L497.9 533.0 L501.6 533.9 L507.3 545.2 L513.8 559.3 L519.5 563.0 L524.2 564.0 L527.9 562.1 L531.7 566.8 L538.3 568.7 L545.8 569.6 L554.2 568.7 L559.0 558.4 L566.5 539.5 L574.0 524.5 L581.5 510.4 L589.0 496.3 L595.6 484.1 L600.3 490.7 L605.0 501.0 L609.7 510.4 L615.3 512.3 L619.1 510.4 L624.7 522.6 L632.3 541.4 L640.0 560.0 L642.9 567.9 L648.6 570.7 L657.1 572.1 L667.1 572.9 L675.7 571.4 L680.0 562.9 L685.0 551.4 L688.6 550.0 L692.9 541.4 L697.1 534.3 L700.0 538.6 L704.3 547.1 L708.6 553.6 L712.9 562.9 L716.4 569.3 L720.0 570.7 L725.7 566.4 L728.6 568.6 L731.4 573.6 L735.7 574.3 L739.3 567.1 L741.4 564.3 L743.6 568.6 L745.7 572.9 L750.0 575.0 L754.3 574.3 L757.9 575.0 L760.7 573.6 L764.3 574.3 L768.6 571.4 L772.9 568.6 L775.7 572.9 L778.6 575.7 L784.3 575.0 L788.6 575.7 L794.3 575.7 L797.9 571.4 L801.4 573.6 L807.1 576.4 L812.9 577.9 L815.0 577.1 L818.6 581.4 L822.9 582.1 L831.4 581.4 L838.6 581.4 L845.7 581.4 L851.4 580.7 L854.3 577.9 L857.1 575.0 L860.0 579.3 L862.9 581.4 L868.6 581.4 L874.3 580.7 L880.0 581.4 L883.6 580.0 L887.1 581.4 L890.0 577.1 L894.3 565.7 L898.6 555.7 L902.9 547.9 L905.7 548.6 L909.3 544.3 L914.3 534.3 L920.5 520.8 L925.3 519.2 L928.4 520.8 L933.2 529.5 L939.5 542.1 L944.2 556.4 L947.4 555.6 L950.5 555.6 L955.3 564.2 L961.6 575.3 L966.4 580.8 L972.7 581.6 L980.6 580.8 L983.7 580.0 L986.1 581.6 L993.2 581.6 L1001.1 580.0 L1005.9 575.3 L1010.6 561.1 L1015.3 545.3 L1020.1 527.9 L1023.2 520.8 L1028.0 519.2 L1032.7 515.3 L1036.7 514.5 L1039.0 512.9 L1041.4 516.1 L1043.0 517.6 L1046.1 515.3 L1048.5 516.1 L1050.9 520.8 L1054.8 527.9 L1059.0 529.5 L1062.1 537.4 L1066.9 538.2 L1070.0 546.9 L1074.0 557.9 L1077.1 558.7 L1081.1 567.4 L1084.2 572.1 L1087.4 571.4 L1090.5 576.1 L1092.9 576.1 L1096.1 580.8 L1103.2 581.6 L1109.5 580.8 L1112.7 582.4 L1117.4 581.6 L1122.2 580.8 L1126.1 577.7 L1128.5 576.6 L1131.6 580.0 L1136.4 581.6 L1144.3 581.6 L1153.7 581.6 L1163.2 581.3 L1169.5 579.3 L1173.5 572.1 L1176.7 559.5 L1179.0 547.7 L1182.2 546.9 L1188.5 552.4 L1193.2 561.1 L1198.1 576.0 L1201.2 580.3 L1207.8 581.0 L1217.4 581.0 L1217.4 590.5 L77.9 590.5 Z" fill="#fff"/>
<path d="M77.9 582.9 L81.4 580.7 L82.9 577.9 L85.0 578.6 L90.7 575.7 L97.9 571.4 L99.3 572.1 L102.1 575.7 L105.7 575.0 L109.3 576.4 L114.3 575.7 L118.6 577.1 L121.4 574.3 L125.0 568.6 L127.1 568.3 L130.0 572.1 L133.6 574.3 L137.9 575.0 L140.0 575.7 L145.7 575.7 L151.4 574.3 L157.1 573.6 L160.0 574.6 L165.7 574.3 L171.4 572.9 L177.1 570.7 L182.1 567.1 L188.6 554.3 L195.7 541.4 L202.9 528.6 L208.6 520.0 L209.3 520.7 L214.3 524.3 L221.4 526.4 L228.6 528.6 L234.3 530.7 L240.0 534.3 L244.3 537.9 L247.1 536.4 L251.4 540.0 L257.1 545.7 L261.4 551.4 L263.6 552.9 L265.7 557.9 L268.6 562.9 L271.4 562.9 L274.3 567.1 L277.1 571.4 L281.4 570.0 L284.3 572.9 L287.9 577.9 L291.4 581.4 L298.6 582.1 L305.7 582.1 L311.4 581.4 L314.3 580.0 L317.1 577.9 L320.0 580.7 L324.3 580.7 L327.9 577.9 L330.7 580.0 L335.7 581.4 L342.9 582.1 L347.1 582.1 L355.7 581.4 L361.4 578.6 L367.1 576.4 L372.9 568.6 L378.6 562.1 L381.4 560.7 L385.0 562.1 L389.3 557.9 L395.0 550.0 L400.0 554.3 L405.7 561.4 L411.4 570.0 L415.7 577.1 L419.3 581.4 L425.7 582.1 L432.9 581.4 L440.0 580.7 L442.9 579.3 L448.6 580.7 L454.3 580.7 L461.4 579.3 L468.6 578.6 L475.7 577.1 L480.7 570.0 L487.1 554.3 L493.6 540.0 L496.4 534.3 L497.9 533.0 L501.6 533.9 L507.3 545.2 L513.8 559.3 L519.5 563.0 L524.2 564.0 L527.9 562.1 L531.7 566.8 L538.3 568.7 L545.8 569.6 L554.2 568.7 L559.0 558.4 L566.5 539.5 L574.0 524.5 L581.5 510.4 L589.0 496.3 L595.6 484.1 L600.3 490.7 L605.0 501.0 L609.7 510.4 L615.3 512.3 L619.1 510.4 L624.7 522.6 L632.3 541.4 L640.0 560.0 L642.9 567.9 L648.6 570.7 L657.1 572.1 L667.1 572.9 L675.7 571.4 L680.0 562.9 L685.0 551.4 L688.6 550.0 L692.9 541.4 L697.1 534.3 L700.0 538.6 L704.3 547.1 L708.6 553.6 L712.9 562.9 L716.4 569.3 L720.0 570.7 L725.7 566.4 L728.6 568.6 L731.4 573.6 L735.7 574.3 L739.3 567.1 L741.4 564.3 L743.6 568.6 L745.7 572.9 L750.0 575.0 L754.3 574.3 L757.9 575.0 L760.7 573.6 L764.3 574.3 L768.6 571.4 L772.9 568.6 L775.7 572.9 L778.6 575.7 L784.3 575.0 L788.6 575.7 L794.3 575.7 L797.9 571.4 L801.4 573.6 L807.1 576.4 L812.9 577.9 L815.0 577.1 L818.6 581.4 L822.9 582.1 L831.4 581.4 L838.6 581.4 L845.7 581.4 L851.4 580.7 L854.3 577.9 L857.1 575.0 L860.0 579.3 L862.9 581.4 L868.6 581.4 L874.3 580.7 L880.0 581.4 L883.6 580.0 L887.1 581.4 L890.0 577.1 L894.3 565.7 L898.6 555.7 L902.9 547.9 L905.7 548.6 L909.3 544.3 L914.3 534.3 L920.5 520.8 L925.3 519.2 L928.4 520.8 L933.2 529.5 L939.5 542.1 L944.2 556.4 L947.4 555.6 L950.5 555.6 L955.3 564.2 L961.6 575.3 L966.4 580.8 L972.7 581.6 L980.6 580.8 L983.7 580.0 L986.1 581.6 L993.2 581.6 L1001.1 580.0 L1005.9 575.3 L1010.6 561.1 L1015.3 545.3 L1020.1 527.9 L1023.2 520.8 L1028.0 519.2 L1032.7 515.3 L1036.7 514.5 L1039.0 512.9 L1041.4 516.1 L1043.0 517.6 L1046.1 515.3 L1048.5 516.1 L1050.9 520.8 L1054.8 527.9 L1059.0 529.5 L1062.1 537.4 L1066.9 538.2 L1070.0 546.9 L1074.0 557.9 L1077.1 558.7 L1081.1 567.4 L1084.2 572.1 L1087.4 571.4 L1090.5 576.1 L1092.9 576.1 L1096.1 580.8 L1103.2 581.6 L1109.5 580.8 L1112.7 582.4 L1117.4 581.6 L1122.2 580.8 L1126.1 577.7 L1128.5 576.6 L1131.6 580.0 L1136.4 581.6 L1144.3 581.6 L1153.7 581.6 L1163.2 581.3 L1169.5 579.3 L1173.5 572.1 L1176.7 559.5 L1179.0 547.7 L1182.2 546.9 L1188.5 552.4 L1193.2 561.1 L1198.1 576.0 L1201.2 580.3 L1207.8 581.0 L1217.4 581.0 L1217.4 590.5 L77.9 590.5 Z" fill="url(#face)"/>
<g clip-path="url(#faceclip)" stroke="#fff" stroke-opacity="0.6" stroke-width="0.7">
<line x1="76.3" y1="470" x2="76.3" y2="590.5"/>
<line x1="124.7" y1="470" x2="124.7" y2="590.5"/>
<line x1="173.0" y1="470" x2="173.0" y2="590.5"/>
<line x1="221.4" y1="470" x2="221.4" y2="590.5"/>
<line x1="269.7" y1="470" x2="269.7" y2="590.5"/>
<line x1="318.1" y1="470" x2="318.1" y2="590.5"/>
<line x1="366.4" y1="470" x2="366.4" y2="590.5"/>
<line x1="414.8" y1="470" x2="414.8" y2="590.5"/>
<line x1="463.1" y1="470" x2="463.1" y2="590.5"/>
<line x1="511.4" y1="470" x2="511.4" y2="590.5"/>
<line x1="559.8" y1="470" x2="559.8" y2="590.5"/>
<line x1="608.1" y1="470" x2="608.1" y2="590.5"/>
<line x1="656.5" y1="470" x2="656.5" y2="590.5"/>
<line x1="704.8" y1="470" x2="704.8" y2="590.5"/>
<line x1="753.2" y1="470" x2="753.2" y2="590.5"/>
<line x1="801.5" y1="470" x2="801.5" y2="590.5"/>
<line x1="849.9" y1="470" x2="849.9" y2="590.5"/>
<line x1="898.2" y1="470" x2="898.2" y2="590.5"/>
<line x1="946.6" y1="470" x2="946.6" y2="590.5"/>
<line x1="994.9" y1="470" x2="994.9" y2="590.5"/>
<line x1="1043.3" y1="470" x2="1043.3" y2="590.5"/>
<line x1="1091.7" y1="470" x2="1091.7" y2="590.5"/>
<line x1="1140.0" y1="470" x2="1140.0" y2="590.5"/>
<line x1="1188.3" y1="470" x2="1188.3" y2="590.5"/>
<line x1="60" y1="568.4" x2="1220" y2="568.4"/>
<line x1="60" y1="554.0" x2="1220" y2="554.0"/>
<line x1="60" y1="539.6" x2="1220" y2="539.6"/>
<line x1="60" y1="525.2" x2="1220" y2="525.2"/>
<line x1="60" y1="510.8" x2="1220" y2="510.8"/>
<line x1="60" y1="496.4" x2="1220" y2="496.4"/>
<line x1="60" y1="482.0" x2="1220" y2="482.0"/>
</g>
<path d="M77.9 582.9 L81.4 580.7 L82.9 577.9 L85.0 578.6 L90.7 575.7 L97.9 571.4 L99.3 572.1 L102.1 575.7 L105.7 575.0 L109.3 576.4 L114.3 575.7 L118.6 577.1 L121.4 574.3 L125.0 568.6 L127.1 568.3 L130.0 572.1 L133.6 574.3 L137.9 575.0 L140.0 575.7 L145.7 575.7 L151.4 574.3 L157.1 573.6 L160.0 574.6 L165.7 574.3 L171.4 572.9 L177.1 570.7 L182.1 567.1 L188.6 554.3 L195.7 541.4 L202.9 528.6 L208.6 520.0 L209.3 520.7 L214.3 524.3 L221.4 526.4 L228.6 528.6 L234.3 530.7 L240.0 534.3 L244.3 537.9 L247.1 536.4 L251.4 540.0 L257.1 545.7 L261.4 551.4 L263.6 552.9 L265.7 557.9 L268.6 562.9 L271.4 562.9 L274.3 567.1 L277.1 571.4 L281.4 570.0 L284.3 572.9 L287.9 577.9 L291.4 581.4 L298.6 582.1 L305.7 582.1 L311.4 581.4 L314.3 580.0 L317.1 577.9 L320.0 580.7 L324.3 580.7 L327.9 577.9 L330.7 580.0 L335.7 581.4 L342.9 582.1 L347.1 582.1 L355.7 581.4 L361.4 578.6 L367.1 576.4 L372.9 568.6 L378.6 562.1 L381.4 560.7 L385.0 562.1 L389.3 557.9 L395.0 550.0 L400.0 554.3 L405.7 561.4 L411.4 570.0 L415.7 577.1 L419.3 581.4 L425.7 582.1 L432.9 581.4 L440.0 580.7 L442.9 579.3 L448.6 580.7 L454.3 580.7 L461.4 579.3 L468.6 578.6 L475.7 577.1 L480.7 570.0 L487.1 554.3 L493.6 540.0 L496.4 534.3 L497.9 533.0 L501.6 533.9 L507.3 545.2 L513.8 559.3 L519.5 563.0 L524.2 564.0 L527.9 562.1 L531.7 566.8 L538.3 568.7 L545.8 569.6 L554.2 568.7 L559.0 558.4 L566.5 539.5 L574.0 524.5 L581.5 510.4 L589.0 496.3 L595.6 484.1 L600.3 490.7 L605.0 501.0 L609.7 510.4 L615.3 512.3 L619.1 510.4 L624.7 522.6 L632.3 541.4 L640.0 560.0 L642.9 567.9 L648.6 570.7 L657.1 572.1 L667.1 572.9 L675.7 571.4 L680.0 562.9 L685.0 551.4 L688.6 550.0 L692.9 541.4 L697.1 534.3 L700.0 538.6 L704.3 547.1 L708.6 553.6 L712.9 562.9 L716.4 569.3 L720.0 570.7 L725.7 566.4 L728.6 568.6 L731.4 573.6 L735.7 574.3 L739.3 567.1 L741.4 564.3 L743.6 568.6 L745.7 572.9 L750.0 575.0 L754.3 574.3 L757.9 575.0 L760.7 573.6 L764.3 574.3 L768.6 571.4 L772.9 568.6 L775.7 572.9 L778.6 575.7 L784.3 575.0 L788.6 575.7 L794.3 575.7 L797.9 571.4 L801.4 573.6 L807.1 576.4 L812.9 577.9 L815.0 577.1 L818.6 581.4 L822.9 582.1 L831.4 581.4 L838.6 581.4 L845.7 581.4 L851.4 580.7 L854.3 577.9 L857.1 575.0 L860.0 579.3 L862.9 581.4 L868.6 581.4 L874.3 580.7 L880.0 581.4 L883.6 580.0 L887.1 581.4 L890.0 577.1 L894.3 565.7 L898.6 555.7 L902.9 547.9 L905.7 548.6 L909.3 544.3 L914.3 534.3 L920.5 520.8 L925.3 519.2 L928.4 520.8 L933.2 529.5 L939.5 542.1 L944.2 556.4 L947.4 555.6 L950.5 555.6 L955.3 564.2 L961.6 575.3 L966.4 580.8 L972.7 581.6 L980.6 580.8 L983.7 580.0 L986.1 581.6 L993.2 581.6 L1001.1 580.0 L1005.9 575.3 L1010.6 561.1 L1015.3 545.3 L1020.1 527.9 L1023.2 520.8 L1028.0 519.2 L1032.7 515.3 L1036.7 514.5 L1039.0 512.9 L1041.4 516.1 L1043.0 517.6 L1046.1 515.3 L1048.5 516.1 L1050.9 520.8 L1054.8 527.9 L1059.0 529.5 L1062.1 537.4 L1066.9 538.2 L1070.0 546.9 L1074.0 557.9 L1077.1 558.7 L1081.1 567.4 L1084.2 572.1 L1087.4 571.4 L1090.5 576.1 L1092.9 576.1 L1096.1 580.8 L1103.2 581.6 L1109.5 580.8 L1112.7 582.4 L1117.4 581.6 L1122.2 580.8 L1126.1 577.7 L1128.5 576.6 L1131.6 580.0 L1136.4 581.6 L1144.3 581.6 L1153.7 581.6 L1163.2 581.3 L1169.5 579.3 L1173.5 572.1 L1176.7 559.5 L1179.0 547.7 L1182.2 546.9 L1188.5 552.4 L1193.2 561.1 L1198.1 576.0 L1201.2 580.3 L1207.8 581.0 L1217.4 581.0" transform="translate(0.5 1.6)" fill="none" stroke="#000" stroke-opacity="0.45" stroke-width="5" stroke-linejoin="round" filter="url(#blur)"/>
<path d="M77.9 582.9 L81.4 580.7 L82.9 577.9 L85.0 578.6 L90.7 575.7 L97.9 571.4 L99.3 572.1 L102.1 575.7 L105.7 575.0 L109.3 576.4 L114.3 575.7 L118.6 577.1 L121.4 574.3 L125.0 568.6 L127.1 568.3 L130.0 572.1 L133.6 574.3 L137.9 575.0 L140.0 575.7 L145.7 575.7 L151.4 574.3 L157.1 573.6 L160.0 574.6 L165.7 574.3 L171.4 572.9 L177.1 570.7 L182.1 567.1 L188.6 554.3 L195.7 541.4 L202.9 528.6 L208.6 520.0 L209.3 520.7 L214.3 524.3 L221.4 526.4 L228.6 528.6 L234.3 530.7 L240.0 534.3 L244.3 537.9 L247.1 536.4 L251.4 540.0 L257.1 545.7 L261.4 551.4 L263.6 552.9 L265.7 557.9 L268.6 562.9 L271.4 562.9 L274.3 567.1 L277.1 571.4 L281.4 570.0 L284.3 572.9 L287.9 577.9 L291.4 581.4 L298.6 582.1 L305.7 582.1 L311.4 581.4 L314.3 580.0 L317.1 577.9 L320.0 580.7 L324.3 580.7 L327.9 577.9 L330.7 580.0 L335.7 581.4 L342.9 582.1 L347.1 582.1 L355.7 581.4 L361.4 578.6 L367.1 576.4 L372.9 568.6 L378.6 562.1 L381.4 560.7 L385.0 562.1 L389.3 557.9 L395.0 550.0 L400.0 554.3 L405.7 561.4 L411.4 570.0 L415.7 577.1 L419.3 581.4 L425.7 582.1 L432.9 581.4 L440.0 580.7 L442.9 579.3 L448.6 580.7 L454.3 580.7 L461.4 579.3 L468.6 578.6 L475.7 577.1 L480.7 570.0 L487.1 554.3 L493.6 540.0 L496.4 534.3 L497.9 533.0 L501.6 533.9 L507.3 545.2 L513.8 559.3 L519.5 563.0 L524.2 564.0 L527.9 562.1 L531.7 566.8 L538.3 568.7 L545.8 569.6 L554.2 568.7 L559.0 558.4 L566.5 539.5 L574.0 524.5 L581.5 510.4 L589.0 496.3 L595.6 484.1 L600.3 490.7 L605.0 501.0 L609.7 510.4 L615.3 512.3 L619.1 510.4 L624.7 522.6 L632.3 541.4 L640.0 560.0 L642.9 567.9 L648.6 570.7 L657.1 572.1 L667.1 572.9 L675.7 571.4 L680.0 562.9 L685.0 551.4 L688.6 550.0 L692.9 541.4 L697.1 534.3 L700.0 538.6 L704.3 547.1 L708.6 553.6 L712.9 562.9 L716.4 569.3 L720.0 570.7 L725.7 566.4 L728.6 568.6 L731.4 573.6 L735.7 574.3 L739.3 567.1 L741.4 564.3 L743.6 568.6 L745.7 572.9 L750.0 575.0 L754.3 574.3 L757.9 575.0 L760.7 573.6 L764.3 574.3 L768.6 571.4 L772.9 568.6 L775.7 572.9 L778.6 575.7 L784.3 575.0 L788.6 575.7 L794.3 575.7 L797.9 571.4 L801.4 573.6 L807.1 576.4 L812.9 577.9 L815.0 577.1 L818.6 581.4 L822.9 582.1 L831.4 581.4 L838.6 581.4 L845.7 581.4 L851.4 580.7 L854.3 577.9 L857.1 575.0 L860.0 579.3 L862.9 581.4 L868.6 581.4 L874.3 580.7 L880.0 581.4 L883.6 580.0 L887.1 581.4 L890.0 577.1 L894.3 565.7 L898.6 555.7 L902.9 547.9 L905.7 548.6 L909.3 544.3 L914.3 534.3 L920.5 520.8 L925.3 519.2 L928.4 520.8 L933.2 529.5 L939.5 542.1 L944.2 556.4 L947.4 555.6 L950.5 555.6 L955.3 564.2 L961.6 575.3 L966.4 580.8 L972.7 581.6 L980.6 580.8 L983.7 580.0 L986.1 581.6 L993.2 581.6 L1001.1 580.0 L1005.9 575.3 L1010.6 561.1 L1015.3 545.3 L1020.1 527.9 L1023.2 520.8 L1028.0 519.2 L1032.7 515.3 L1036.7 514.5 L1039.0 512.9 L1041.4 516.1 L1043.0 517.6 L1046.1 515.3 L1048.5 516.1 L1050.9 520.8 L1054.8 527.9 L1059.0 529.5 L1062.1 537.4 L1066.9 538.2 L1070.0 546.9 L1074.0 557.9 L1077.1 558.7 L1081.1 567.4 L1084.2 572.1 L1087.4 571.4 L1090.5 576.1 L1092.9 576.1 L1096.1 580.8 L1103.2 581.6 L1109.5 580.8 L1112.7 582.4 L1117.4 581.6 L1122.2 580.8 L1126.1 577.7 L1128.5 576.6 L1131.6 580.0 L1136.4 581.6 L1144.3 581.6 L1153.7 581.6 L1163.2 581.3 L1169.5 579.3 L1173.5 572.1 L1176.7 559.5 L1179.0 547.7 L1182.2 546.9 L1188.5 552.4 L1193.2 561.1 L1198.1 576.0 L1201.2 580.3 L1207.8 581.0 L1217.4 581.0" fill="none" stroke="#0b0b0b" stroke-width="4.3" stroke-linejoin="round" stroke-linecap="butt"/>
<path d="M77.9 582.9 L81.4 580.7 L82.9 577.9 L85.0 578.6 L90.7 575.7 L97.9 571.4 L99.3 572.1 L102.1 575.7 L105.7 575.0 L109.3 576.4 L114.3 575.7 L118.6 577.1 L121.4 574.3 L125.0 568.6 L127.1 568.3 L130.0 572.1 L133.6 574.3 L137.9 575.0 L140.0 575.7 L145.7 575.7 L151.4 574.3 L157.1 573.6 L160.0 574.6 L165.7 574.3 L171.4 572.9 L177.1 570.7 L182.1 567.1 L188.6 554.3 L195.7 541.4 L202.9 528.6 L208.6 520.0 L209.3 520.7 L214.3 524.3 L221.4 526.4 L228.6 528.6 L234.3 530.7 L240.0 534.3 L244.3 537.9 L247.1 536.4 L251.4 540.0 L257.1 545.7 L261.4 551.4 L263.6 552.9 L265.7 557.9 L268.6 562.9 L271.4 562.9 L274.3 567.1 L277.1 571.4 L281.4 570.0 L284.3 572.9 L287.9 577.9 L291.4 581.4 L298.6 582.1 L305.7 582.1 L311.4 581.4 L314.3 580.0 L317.1 577.9 L320.0 580.7 L324.3 580.7 L327.9 577.9 L330.7 580.0 L335.7 581.4 L342.9 582.1 L347.1 582.1 L355.7 581.4 L361.4 578.6 L367.1 576.4 L372.9 568.6 L378.6 562.1 L381.4 560.7 L385.0 562.1 L389.3 557.9 L395.0 550.0 L400.0 554.3 L405.7 561.4 L411.4 570.0 L415.7 577.1 L419.3 581.4 L425.7 582.1 L432.9 581.4 L440.0 580.7 L442.9 579.3 L448.6 580.7 L454.3 580.7 L461.4 579.3 L468.6 578.6 L475.7 577.1 L480.7 570.0 L487.1 554.3 L493.6 540.0 L496.4 534.3 L497.9 533.0 L501.6 533.9 L507.3 545.2 L513.8 559.3 L519.5 563.0 L524.2 564.0 L527.9 562.1 L531.7 566.8 L538.3 568.7 L545.8 569.6 L554.2 568.7 L559.0 558.4 L566.5 539.5 L574.0 524.5 L581.5 510.4 L589.0 496.3 L595.6 484.1 L600.3 490.7 L605.0 501.0 L609.7 510.4 L615.3 512.3 L619.1 510.4 L624.7 522.6 L632.3 541.4 L640.0 560.0 L642.9 567.9 L648.6 570.7 L657.1 572.1 L667.1 572.9 L675.7 571.4 L680.0 562.9 L685.0 551.4 L688.6 550.0 L692.9 541.4 L697.1 534.3 L700.0 538.6 L704.3 547.1 L708.6 553.6 L712.9 562.9 L716.4 569.3 L720.0 570.7 L725.7 566.4 L728.6 568.6 L731.4 573.6 L735.7 574.3 L739.3 567.1 L741.4 564.3 L743.6 568.6 L745.7 572.9 L750.0 575.0 L754.3 574.3 L757.9 575.0 L760.7 573.6 L764.3 574.3 L768.6 571.4 L772.9 568.6 L775.7 572.9 L778.6 575.7 L784.3 575.0 L788.6 575.7 L794.3 575.7 L797.9 571.4 L801.4 573.6 L807.1 576.4 L812.9 577.9 L815.0 577.1 L818.6 581.4 L822.9 582.1 L831.4 581.4 L838.6 581.4 L845.7 581.4 L851.4 580.7 L854.3 577.9 L857.1 575.0 L860.0 579.3 L862.9 581.4 L868.6 581.4 L874.3 580.7 L880.0 581.4 L883.6 580.0 L887.1 581.4 L890.0 577.1 L894.3 565.7 L898.6 555.7 L902.9 547.9 L905.7 548.6 L909.3 544.3 L914.3 534.3 L920.5 520.8 L925.3 519.2 L928.4 520.8 L933.2 529.5 L939.5 542.1 L944.2 556.4 L947.4 555.6 L950.5 555.6 L955.3 564.2 L961.6 575.3 L966.4 580.8 L972.7 581.6 L980.6 580.8 L983.7 580.0 L986.1 581.6 L993.2 581.6 L1001.1 580.0 L1005.9 575.3 L1010.6 561.1 L1015.3 545.3 L1020.1 527.9 L1023.2 520.8 L1028.0 519.2 L1032.7 515.3 L1036.7 514.5 L1039.0 512.9 L1041.4 516.1 L1043.0 517.6 L1046.1 515.3 L1048.5 516.1 L1050.9 520.8 L1054.8 527.9 L1059.0 529.5 L1062.1 537.4 L1066.9 538.2 L1070.0 546.9 L1074.0 557.9 L1077.1 558.7 L1081.1 567.4 L1084.2 572.1 L1087.4 571.4 L1090.5 576.1 L1092.9 576.1 L1096.1 580.8 L1103.2 581.6 L1109.5 580.8 L1112.7 582.4 L1117.4 581.6 L1122.2 580.8 L1126.1 577.7 L1128.5 576.6 L1131.6 580.0 L1136.4 581.6 L1144.3 581.6 L1153.7 581.6 L1163.2 581.3 L1169.5 579.3 L1173.5 572.1 L1176.7 559.5 L1179.0 547.7 L1182.2 546.9 L1188.5 552.4 L1193.2 561.1 L1198.1 576.0 L1201.2 580.3 L1207.8 581.0 L1217.4 581.0" fill="none" stroke="#fff" stroke-width="1.15" stroke-linejoin="round" stroke-linecap="butt"/>
<g stroke="#222" stroke-width="1" fill="none">
<path d="M51 467.6 V582.8"/>
<path d="M1230.6 467.6 V582.8"/>
<path d="M51 582.8 h3"/>
<path d="M1230.6 582.8 h-3.6"/>
<path d="M51 568.4 h3"/>
<path d="M1230.6 568.4 h-3.6"/>
<path d="M51 554.0 h3"/>
<path d="M1230.6 554.0 h-3.6"/>
<path d="M51 539.6 h3"/>
<path d="M1230.6 539.6 h-3.6"/>
<path d="M51 525.2 h3"/>
<path d="M1230.6 525.2 h-3.6"/>
<path d="M51 510.8 h3"/>
<path d="M1230.6 510.8 h-3.6"/>
<path d="M51 496.4 h3"/>
<path d="M1230.6 496.4 h-3.6"/>
<path d="M51 482.0 h3"/>
<path d="M1230.6 482.0 h-3.6"/>
<path d="M51 467.6 h3"/>
<path d="M1230.6 467.6 h-3.6"/>
</g>
<text x="47.00" y="583.10" font-size="7.1" font-weight="normal" fill="#111" text-anchor="end" stroke="#111" stroke-width="0.2">0 m</text>
<text x="1256.60" y="582.50" font-size="7.1" font-weight="normal" fill="#111" text-anchor="end" stroke="#111" stroke-width="0.2">0 m</text>
<text x="47.00" y="568.70" font-size="7.1" font-weight="normal" fill="#111" text-anchor="end" stroke="#111" stroke-width="0.2">100 m</text>
<text x="1256.60" y="568.10" font-size="7.1" font-weight="normal" fill="#111" text-anchor="end" stroke="#111" stroke-width="0.2">100 m</text>
<text x="47.00" y="554.30" font-size="7.1" font-weight="normal" fill="#111" text-anchor="end" stroke="#111" stroke-width="0.2">200 m</text>
<text x="1256.60" y="553.70" font-size="7.1" font-weight="normal" fill="#111" text-anchor="end" stroke="#111" stroke-width="0.2">200 m</text>
<text x="47.00" y="539.90" font-size="7.1" font-weight="normal" fill="#111" text-anchor="end" stroke="#111" stroke-width="0.2">300 m</text>
<text x="1256.60" y="539.30" font-size="7.1" font-weight="normal" fill="#111" text-anchor="end" stroke="#111" stroke-width="0.2">300 m</text>
<text x="47.00" y="525.50" font-size="7.1" font-weight="normal" fill="#111" text-anchor="end" stroke="#111" stroke-width="0.2">400 m</text>
<text x="1256.60" y="524.90" font-size="7.1" font-weight="normal" fill="#111" text-anchor="end" stroke="#111" stroke-width="0.2">400 m</text>
<text x="47.00" y="511.10" font-size="7.1" font-weight="normal" fill="#111" text-anchor="end" stroke="#111" stroke-width="0.2">500 m</text>
<text x="1256.60" y="510.50" font-size="7.1" font-weight="normal" fill="#111" text-anchor="end" stroke="#111" stroke-width="0.2">500 m</text>
<text x="47.00" y="496.70" font-size="7.1" font-weight="normal" fill="#111" text-anchor="end" stroke="#111" stroke-width="0.2">600 m</text>
<text x="1256.60" y="496.10" font-size="7.1" font-weight="normal" fill="#111" text-anchor="end" stroke="#111" stroke-width="0.2">600 m</text>
<text x="47.00" y="482.30" font-size="7.1" font-weight="normal" fill="#111" text-anchor="end" stroke="#111" stroke-width="0.2">700 m</text>
<text x="1256.60" y="481.70" font-size="7.1" font-weight="normal" fill="#111" text-anchor="end" stroke="#111" stroke-width="0.2">700 m</text>
<text x="47.00" y="467.90" font-size="7.1" font-weight="normal" fill="#111" text-anchor="end" stroke="#111" stroke-width="0.2">800 m</text>
<text x="1256.60" y="467.30" font-size="7.1" font-weight="normal" fill="#111" text-anchor="end" stroke="#111" stroke-width="0.2">800 m</text>
<g stroke="#2b2b2b" stroke-width="1">
<path d="M65.75 392 V590.5" fill="none"/>
<path d="M107.75 448 V590.5"/>
<path d="M139.25 448 V590.5"/>
<path d="M164.5 448 V590.5"/>
<path d="M299.25 448 V590.5"/>
<path d="M347.5 448 V590.5"/>
<path d="M394.4 448 V590.5"/>
<path d="M421.2 448 V590.5"/>
<path d="M550.1 448 V590.5"/>
<path d="M658.75 448 V590.5"/>
<path d="M761.6 448 V590.5"/>
<path d="M801.7 448 V590.5"/>
<path d="M983.5 448 V590.5"/>
<path d="M209.5 388 V590.5"/>
<path d="M496.25 388 V590.5"/>
<path d="M596.6 388 V590.5"/>
<path d="M696.8 388 V590.5"/>
<path d="M845.0 388 V590.5"/>
<path d="M926.25 388 V590.5"/>
<path d="M1021.75 388 V590.5"/>
<path d="M1137.75 388 V590.5"/>
<path d="M1180.25 388 V420 M1180.25 475.4 V590.5"/>
<path d="M1239.4 388 V430.3 H1217.5 V590.5" fill="none"/>
</g>
<text transform="translate(112.15 438.98) rotate(-90)" font-size="13.4" font-weight="normal" fill="#111" textLength="55.40" lengthAdjust="spacingAndGlyphs">HERNANI</text>
<text transform="translate(143.65 438.00) rotate(-90)" font-size="13.4" font-weight="normal" fill="#111" textLength="61.60" lengthAdjust="spacingAndGlyphs">ANDOAIN</text>
<text transform="translate(168.90 438.06) rotate(-90)" font-size="13.4" font-weight="normal" fill="#111" textLength="70.10" lengthAdjust="spacingAndGlyphs">VILLABONA</text>
<text transform="translate(303.65 438.34) rotate(-90)" font-size="13.4" font-weight="normal" fill="#111" textLength="51.89" lengthAdjust="spacingAndGlyphs">ZARAUTZ</text>
<text transform="translate(351.90 438.37) rotate(-90)" font-size="13.4" font-weight="normal" fill="#111" textLength="47.21" lengthAdjust="spacingAndGlyphs">ZUMAIA</text>
<text transform="translate(398.80 438.97) rotate(-90)" font-size="13.4" font-weight="normal" fill="#111" textLength="34.28" lengthAdjust="spacingAndGlyphs">ITZIAR</text>
<text transform="translate(425.60 438.95) rotate(-90)" font-size="13.4" font-weight="normal" fill="#111" textLength="32.39" lengthAdjust="spacingAndGlyphs">DEBA</text>
<text transform="translate(554.50 438.00) rotate(-90)" font-size="13.4" font-weight="normal" fill="#111" textLength="49.01" lengthAdjust="spacingAndGlyphs">AZPEITIA</text>
<text transform="translate(663.15 438.24) rotate(-90)" font-size="13.4" font-weight="normal" fill="#111" textLength="48.18" lengthAdjust="spacingAndGlyphs">TOLOSA</text>
<text transform="translate(766.00 438.00) rotate(-90)" font-size="13.4" font-weight="normal" fill="#111" textLength="60.27" lengthAdjust="spacingAndGlyphs">ANDOAIN</text>
<text transform="translate(806.10 438.97) rotate(-90)" font-size="13.4" font-weight="normal" fill="#111" textLength="54.46" lengthAdjust="spacingAndGlyphs">HERNANI</text>
<text transform="translate(987.90 439.11) rotate(-90)" font-size="13.4" font-weight="normal" fill="#111" textLength="30.15" lengthAdjust="spacingAndGlyphs">IRUN</text>
<text transform="translate(207.10 346.74) rotate(-90)" font-size="21.5" font-weight="bold" fill="#0c0c0c" textLength="135.10" lengthAdjust="spacingAndGlyphs" stroke="#0c0c0c" stroke-width="0.4">ANDAZARRATE</text>
<text transform="translate(207.10 210.89) rotate(-90)" font-size="14" font-weight="normal" fill="#111" textLength="35.97" lengthAdjust="spacingAndGlyphs">435m</text>
<text transform="translate(222.90 348.41) rotate(-90)" font-size="14.2" font-weight="normal" fill="#111" textLength="97.29" lengthAdjust="spacingAndGlyphs">(5.9Km al 5.7%)</text>
<text transform="translate(494.10 346.73) rotate(-90)" font-size="21.5" font-weight="bold" fill="#0c0c0c" textLength="93.95" lengthAdjust="spacingAndGlyphs" stroke="#0c0c0c" stroke-width="0.4">AZKARATE</text>
<text transform="translate(494.10 248.65) rotate(-90)" font-size="14" font-weight="normal" fill="#111" textLength="34.60" lengthAdjust="spacingAndGlyphs">340m</text>
<text transform="translate(509.90 348.39) rotate(-90)" font-size="14.2" font-weight="normal" fill="#111" textLength="94.03" lengthAdjust="spacingAndGlyphs">(4.2Km al 7.3%)</text>
<text transform="translate(596.30 347.35) rotate(-90)" font-size="21.5" font-weight="bold" fill="#0c0c0c" textLength="67.74" lengthAdjust="spacingAndGlyphs" stroke="#0c0c0c" stroke-width="0.4">URRAKI</text>
<text transform="translate(596.30 277.18) rotate(-90)" font-size="14" font-weight="normal" fill="#111" textLength="34.23" lengthAdjust="spacingAndGlyphs">683m</text>
<text transform="translate(612.10 348.39) rotate(-90)" font-size="14.2" font-weight="normal" fill="#111" textLength="94.03" lengthAdjust="spacingAndGlyphs">(8.6Km al 6.9%)</text>
<text transform="translate(696.90 346.74) rotate(-90)" font-size="21.5" font-weight="bold" fill="#0c0c0c" textLength="64.19" lengthAdjust="spacingAndGlyphs" stroke="#0c0c0c" stroke-width="0.4">ALKIZA</text>
<text transform="translate(696.90 277.56) rotate(-90)" font-size="14" font-weight="normal" fill="#111" textLength="35.13" lengthAdjust="spacingAndGlyphs">336m</text>
<text transform="translate(712.70 348.39) rotate(-90)" font-size="14.2" font-weight="normal" fill="#111" textLength="94.75" lengthAdjust="spacingAndGlyphs">(4.4Km al 6.2%)</text>
<text transform="translate(852.80 347.52) rotate(-90)" font-size="21.5" font-weight="bold" fill="#0c0c0c" textLength="98.74" lengthAdjust="spacingAndGlyphs" stroke="#0c0c0c" stroke-width="0.4">DONOSTIA</text>
<text transform="translate(852.80 240.67) rotate(-90)" font-size="14" font-weight="normal" fill="#111" textLength="25.11" lengthAdjust="spacingAndGlyphs">10m</text>
<text transform="translate(925.00 346.55) rotate(-90)" font-size="21.5" font-weight="bold" fill="#0c0c0c" textLength="86.89" lengthAdjust="spacingAndGlyphs" stroke="#0c0c0c" stroke-width="0.4">JAIZKIBEL</text>
<text transform="translate(925.00 255.57) rotate(-90)" font-size="14" font-weight="normal" fill="#111" textLength="34.32" lengthAdjust="spacingAndGlyphs">455m</text>
<text transform="translate(940.80 348.39) rotate(-90)" font-size="14.2" font-weight="normal" fill="#111" textLength="94.03" lengthAdjust="spacingAndGlyphs">(7.9Km al 5.6%)</text>
<text transform="translate(1021.30 347.33) rotate(-90)" font-size="21.5" font-weight="bold" fill="#0c0c0c" textLength="66.65" lengthAdjust="spacingAndGlyphs" stroke="#0c0c0c" stroke-width="0.4">ERLAITZ</text>
<text transform="translate(1021.30 276.78) rotate(-90)" font-size="14" font-weight="normal" fill="#111" textLength="34.84" lengthAdjust="spacingAndGlyphs">443m</text>
<text transform="translate(1037.10 348.41) rotate(-90)" font-size="14.2" font-weight="normal" fill="#111" textLength="104.43" lengthAdjust="spacingAndGlyphs">(3.8Km al 10.6%)</text>
<text transform="translate(1145.90 347.52) rotate(-90)" font-size="21.5" font-weight="bold" fill="#0c0c0c" textLength="98.74" lengthAdjust="spacingAndGlyphs" stroke="#0c0c0c" stroke-width="0.4">DONOSTIA</text>
<text transform="translate(1145.90 240.67) rotate(-90)" font-size="14" font-weight="normal" fill="#111" textLength="25.11" lengthAdjust="spacingAndGlyphs">10m</text>
<text transform="translate(1180.20 347.46) rotate(-90)" font-size="21.5" font-weight="bold" fill="#0c0c0c" textLength="83.15" lengthAdjust="spacingAndGlyphs" stroke="#0c0c0c" stroke-width="0.4">PILOTEGI</text>
<text transform="translate(1180.20 261.07) rotate(-90)" font-size="14" font-weight="normal" fill="#111" textLength="33.49" lengthAdjust="spacingAndGlyphs">252m</text>
<text transform="translate(1196.00 348.42) rotate(-90)" font-size="14.2" font-weight="normal" fill="#111" textLength="92.67" lengthAdjust="spacingAndGlyphs">(2Km al 11.7%)</text>
<path d="M48.9 126.0 H83.3 V373.40 A17.20 17.20 0 0 1 48.9 373.40 Z" fill="#fff" stroke="#1f9e2c" stroke-width="2.5" stroke-linejoin="round"/>
<path d="M1222.5 126.0 H1256.8 V373.45 A17.15 17.15 0 0 1 1222.5 373.45 Z" fill="#fff" stroke="#1f9e2c" stroke-width="2.5" stroke-linejoin="round"/>
<text transform="translate(73.00 281.93) rotate(-90)" font-size="22.3" font-weight="bold" fill="#0c0c0c" textLength="116.14" lengthAdjust="spacingAndGlyphs" stroke="#0c0c0c" stroke-width="0.4">DONOSTIA</text>
<text transform="translate(73.00 158.95) rotate(-90)" font-size="13.4" font-weight="normal" fill="#111" textLength="27.27" lengthAdjust="spacingAndGlyphs">10m</text>
<text transform="translate(1247.00 281.32) rotate(-90)" font-size="22.3" font-weight="bold" fill="#0c0c0c" textLength="115.53" lengthAdjust="spacingAndGlyphs" stroke="#0c0c0c" stroke-width="0.4">DONOSTIA</text>
<text transform="translate(1247.00 159.13) rotate(-90)" font-size="13.4" font-weight="normal" fill="#111" textLength="26.73" lengthAdjust="spacingAndGlyphs">10m</text>
<circle cx="209.5" cy="373.8" r="14.85" fill="#7f837f" stroke="#646664" stroke-width="0.7"/>
<circle cx="209.5" cy="373.8" r="13.8" fill="none" stroke="#939693" stroke-width="0.6"/>
<circle cx="209.5" cy="373.8" r="12.7" fill="url(#red)"/>
<path transform="translate(209.5 373.8)" d="M-8.9 7.8 L-5.9 2.2 L-3.7 4.0 L1.8 -7.4 L9.0 7.8 Z" fill="#fff"/>
<path transform="translate(209.5 373.8)" d="M0.7 -2.4 L1.5 -4.6 L2.2 -2.6 L3.1 -3.6 L3.6 -0.6 L2.9 -1.6 L2.3 -0.2 L1.6 -2.0 Z" fill="#c2161b"/>
<text x="199.64" y="374.30" font-size="12.8" font-weight="bold" fill="#fff" font-style="italic" textLength="7.21" lengthAdjust="spacingAndGlyphs">3</text>
<circle cx="496.25" cy="373.8" r="14.85" fill="#7f837f" stroke="#646664" stroke-width="0.7"/>
<circle cx="496.25" cy="373.8" r="13.8" fill="none" stroke="#939693" stroke-width="0.6"/>
<circle cx="496.25" cy="373.8" r="12.7" fill="url(#red)"/>
<path transform="translate(496.25 373.8)" d="M-8.9 7.8 L-5.9 2.2 L-3.7 4.0 L1.8 -7.4 L9.0 7.8 Z" fill="#fff"/>
<path transform="translate(496.25 373.8)" d="M0.7 -2.4 L1.5 -4.6 L2.2 -2.6 L3.1 -3.6 L3.6 -0.6 L2.9 -1.6 L2.3 -0.2 L1.6 -2.0 Z" fill="#c2161b"/>
<text x="486.39" y="374.30" font-size="12.8" font-weight="bold" fill="#fff" font-style="italic" textLength="7.21" lengthAdjust="spacingAndGlyphs">3</text>
<circle cx="596.6" cy="373.8" r="14.85" fill="#7f837f" stroke="#646664" stroke-width="0.7"/>
<circle cx="596.6" cy="373.8" r="13.8" fill="none" stroke="#939693" stroke-width="0.6"/>
<circle cx="596.6" cy="373.8" r="12.7" fill="url(#red)"/>
<path transform="translate(596.6 373.8)" d="M-8.9 7.8 L-5.9 2.2 L-3.7 4.0 L1.8 -7.4 L9.0 7.8 Z" fill="#fff"/>
<path transform="translate(596.6 373.8)" d="M0.7 -2.4 L1.5 -4.6 L2.2 -2.6 L3.1 -3.6 L3.6 -0.6 L2.9 -1.6 L2.3 -0.2 L1.6 -2.0 Z" fill="#c2161b"/>
<text x="586.62" y="372.60" font-size="10.4" font-weight="bold" fill="#fff" textLength="7.65" lengthAdjust="spacingAndGlyphs" stroke="#fff" stroke-width="0.3">2</text>
<circle cx="696.8" cy="373.8" r="14.85" fill="#7f837f" stroke="#646664" stroke-width="0.7"/>
<circle cx="696.8" cy="373.8" r="13.8" fill="none" stroke="#939693" stroke-width="0.6"/>
<circle cx="696.8" cy="373.8" r="12.7" fill="url(#red)"/>
<path transform="translate(696.8 373.8)" d="M-8.9 7.8 L-5.9 2.2 L-3.7 4.0 L1.8 -7.4 L9.0 7.8 Z" fill="#fff"/>
<path transform="translate(696.8 373.8)" d="M0.7 -2.4 L1.5 -4.6 L2.2 -2.6 L3.1 -3.6 L3.6 -0.6 L2.9 -1.6 L2.3 -0.2 L1.6 -2.0 Z" fill="#c2161b"/>
<text x="686.94" y="374.30" font-size="12.8" font-weight="bold" fill="#fff" font-style="italic" textLength="7.21" lengthAdjust="spacingAndGlyphs">3</text>
<circle cx="845.0" cy="373.8" r="14.85" fill="#7f837f" stroke="#646664" stroke-width="0.7"/>
<circle cx="845.0" cy="373.8" r="13.8" fill="none" stroke="#939693" stroke-width="0.6"/>
<circle cx="845.0" cy="373.8" r="12.7" fill="url(#grn)"/>
<g transform="translate(845.0 373.8)">
<path d="M-8.2 -6.8 h4.2 M-10.2 -2.6 h4.4 M-9.4 1.8 h3.6 M-7.8 4.4 h2.6" stroke="#9be3a3" stroke-width="1.3" fill="none"/>
<text x="-6.9" y="7.9" font-size="23" font-weight="bold" font-style="italic" fill="#e2f7e3" textLength="14" lengthAdjust="spacingAndGlyphs">S</text>
</g>
<circle cx="926.25" cy="373.8" r="14.85" fill="#7f837f" stroke="#646664" stroke-width="0.7"/>
<circle cx="926.25" cy="373.8" r="13.8" fill="none" stroke="#939693" stroke-width="0.6"/>
<circle cx="926.25" cy="373.8" r="12.7" fill="url(#red)"/>
<path transform="translate(926.25 373.8)" d="M-8.9 7.8 L-5.9 2.2 L-3.7 4.0 L1.8 -7.4 L9.0 7.8 Z" fill="#fff"/>
<path transform="translate(926.25 373.8)" d="M0.7 -2.4 L1.5 -4.6 L2.2 -2.6 L3.1 -3.6 L3.6 -0.6 L2.9 -1.6 L2.3 -0.2 L1.6 -2.0 Z" fill="#c2161b"/>
<text x="916.27" y="372.60" font-size="10.4" font-weight="bold" fill="#fff" textLength="7.65" lengthAdjust="spacingAndGlyphs" stroke="#fff" stroke-width="0.3">2</text>
<circle cx="1021.75" cy="373.8" r="14.85" fill="#7f837f" stroke="#646664" stroke-width="0.7"/>
<circle cx="1021.75" cy="373.8" r="13.8" fill="none" stroke="#939693" stroke-width="0.6"/>
<circle cx="1021.75" cy="373.8" r="12.7" fill="url(#red)"/>
<path transform="translate(1021.75 373.8)" d="M-8.9 7.8 L-5.9 2.2 L-3.7 4.0 L1.8 -7.4 L9.0 7.8 Z" fill="#fff"/>
<path transform="translate(1021.75 373.8)" d="M0.7 -2.4 L1.5 -4.6 L2.2 -2.6 L3.1 -3.6 L3.6 -0.6 L2.9 -1.6 L2.3 -0.2 L1.6 -2.0 Z" fill="#c2161b"/>
<text x="1012.10" y="372.60" font-size="10.4" font-weight="bold" fill="#fff" textLength="6.04" lengthAdjust="spacingAndGlyphs" stroke="#fff" stroke-width="0.3">1</text>
<circle cx="1137.75" cy="373.8" r="14.85" fill="#7f837f" stroke="#646664" stroke-width="0.7"/>
<circle cx="1137.75" cy="373.8" r="13.8" fill="none" stroke="#939693" stroke-width="0.6"/>
<circle cx="1137.75" cy="373.8" r="12.7" fill="url(#grn)"/>
<g transform="translate(1137.75 373.8)">
<path d="M-8.2 -6.8 h4.2 M-10.2 -2.6 h4.4 M-9.4 1.8 h3.6 M-7.8 4.4 h2.6" stroke="#9be3a3" stroke-width="1.3" fill="none"/>
<text x="-6.9" y="7.9" font-size="23" font-weight="bold" font-style="italic" fill="#e2f7e3" textLength="14" lengthAdjust="spacingAndGlyphs">S</text>
</g>
<circle cx="1180.25" cy="373.8" r="14.85" fill="#7f837f" stroke="#646664" stroke-width="0.7"/>
<circle cx="1180.25" cy="373.8" r="13.8" fill="none" stroke="#939693" stroke-width="0.6"/>
<circle cx="1180.25" cy="373.8" r="12.7" fill="url(#red)"/>
<path transform="translate(1180.25 373.8)" d="M-8.9 7.8 L-5.9 2.2 L-3.7 4.0 L1.8 -7.4 L9.0 7.8 Z" fill="#fff"/>
<path transform="translate(1180.25 373.8)" d="M0.7 -2.4 L1.5 -4.6 L2.2 -2.6 L3.1 -3.6 L3.6 -0.6 L2.9 -1.6 L2.3 -0.2 L1.6 -2.0 Z" fill="#c2161b"/>
<text x="1170.27" y="372.60" font-size="10.4" font-weight="bold" fill="#fff" textLength="7.65" lengthAdjust="spacingAndGlyphs" stroke="#fff" stroke-width="0.3">2</text>
<circle cx="65.7" cy="374.0" r="14.35" fill="#7f837f" stroke="#646664" stroke-width="0.7"/>
<circle cx="65.7" cy="374.0" r="13.3" fill="none" stroke="#939693" stroke-width="0.6"/>
<circle cx="65.7" cy="374" r="12.3" fill="url(#red)"/>
<path d="M61.9 366.2 V381.8 L72.1 374 Z" fill="#fff"/>
<circle cx="1239.3" cy="373.9" r="14.4" fill="#9a9c9a" stroke="#7b7d7b" stroke-width="0.6"/>
<clipPath id="fc"><circle cx="1239.3" cy="373.9" r="12.7"/></clipPath>
<g clip-path="url(#fc)"><rect x="1224.3" y="358.9" width="30" height="30" fill="#fff"/>
<rect x="1218.65" y="359.45" width="5.9" height="5.9" fill="#c00d14"/>
<rect x="1218.65" y="371.25" width="5.9" height="5.9" fill="#c00d14"/>
<rect x="1218.65" y="383.05" width="5.9" height="5.9" fill="#c00d14"/>
<rect x="1224.55" y="353.55" width="5.9" height="5.9" fill="#c00d14"/>
<rect x="1224.55" y="365.35" width="5.9" height="5.9" fill="#c00d14"/>
<rect x="1224.55" y="377.15" width="5.9" height="5.9" fill="#c00d14"/>
<rect x="1224.55" y="388.95" width="5.9" height="5.9" fill="#c00d14"/>
<rect x="1230.45" y="359.45" width="5.9" height="5.9" fill="#c00d14"/>
<rect x="1230.45" y="371.25" width="5.9" height="5.9" fill="#c00d14"/>
<rect x="1230.45" y="383.05" width="5.9" height="5.9" fill="#c00d14"/>
<rect x="1236.35" y="353.55" width="5.9" height="5.9" fill="#c00d14"/>
<rect x="1236.35" y="365.35" width="5.9" height="5.9" fill="#c00d14"/>
<rect x="1236.35" y="377.15" width="5.9" height="5.9" fill="#c00d14"/>
<rect x="1236.35" y="388.95" width="5.9" height="5.9" fill="#c00d14"/>
<rect x="1242.25" y="359.45" width="5.9" height="5.9" fill="#c00d14"/>
<rect x="1242.25" y="371.25" width="5.9" height="5.9" fill="#c00d14"/>
<rect x="1242.25" y="383.05" width="5.9" height="5.9" fill="#c00d14"/>
<rect x="1248.15" y="353.55" width="5.9" height="5.9" fill="#c00d14"/>
<rect x="1248.15" y="365.35" width="5.9" height="5.9" fill="#c00d14"/>
<rect x="1248.15" y="377.15" width="5.9" height="5.9" fill="#c00d14"/>
<rect x="1248.15" y="388.95" width="5.9" height="5.9" fill="#c00d14"/>
<rect x="1254.05" y="359.45" width="5.9" height="5.9" fill="#c00d14"/>
<rect x="1254.05" y="371.25" width="5.9" height="5.9" fill="#c00d14"/>
<rect x="1254.05" y="383.05" width="5.9" height="5.9" fill="#c00d14"/>
</g>
<path d="M1180.1 427.2 L1170.3 443.6 H1190.3 Z" fill="#fff" stroke="#a3151a" stroke-width="1.8" stroke-linejoin="round"/>
<path d="M1172.6 442.5 L1185.6 437.6 L1187.9 442.5 Z" fill="#111"/>
<text x="1167.27" y="458.60" font-size="14" font-weight="normal" fill="#111" textLength="25.29" lengthAdjust="spacingAndGlyphs">27%</text>
<text x="1171.52" y="467.20" font-size="6.4" font-weight="normal" fill="#111" textLength="17.73" lengthAdjust="spacingAndGlyphs">MÁX.</text>
<rect x="23.25" y="590.5" width="1233.25" height="22" fill="#1789d3"/>
<text x="32.07" y="607.00" font-size="15" font-weight="bold" fill="#fff" textLength="23.06" lengthAdjust="spacingAndGlyphs" stroke="#fff" stroke-width="0.3">Km</text>
<text x="99.39" y="606.30" font-size="12.8" font-weight="normal" fill="#d8ecfa" textLength="16.84" lengthAdjust="spacingAndGlyphs">6.5</text>
<text x="129.69" y="606.30" font-size="12.8" font-weight="normal" fill="#d8ecfa" textLength="12.02" lengthAdjust="spacingAndGlyphs">13</text>
<text x="153.38" y="606.30" font-size="12.8" font-weight="normal" fill="#d8ecfa" textLength="22.60" lengthAdjust="spacingAndGlyphs">18.3</text>
<text x="289.78" y="606.30" font-size="12.8" font-weight="normal" fill="#d8ecfa" textLength="21.22" lengthAdjust="spacingAndGlyphs">46.1</text>
<text x="335.04" y="606.30" font-size="12.8" font-weight="normal" fill="#d8ecfa" textLength="22.24" lengthAdjust="spacingAndGlyphs">56.1</text>
<text x="376.14" y="606.30" font-size="12.8" font-weight="normal" fill="#d8ecfa" textLength="23.61" lengthAdjust="spacingAndGlyphs">65.8</text>
<text x="414.39" y="606.30" font-size="12.8" font-weight="normal" fill="#d8ecfa" textLength="23.61" lengthAdjust="spacingAndGlyphs">71.3</text>
<text x="543.18" y="606.30" font-size="12.8" font-weight="normal" fill="#d8ecfa" textLength="14.11" lengthAdjust="spacingAndGlyphs">98</text>
<text x="641.62" y="606.30" font-size="12.8" font-weight="normal" fill="#d8ecfa" textLength="29.38" lengthAdjust="spacingAndGlyphs">120.5</text>
<text x="746.62" y="606.30" font-size="12.8" font-weight="normal" fill="#d8ecfa" textLength="29.50" lengthAdjust="spacingAndGlyphs">141.2</text>
<text x="792.12" y="606.30" font-size="12.8" font-weight="normal" fill="#d8ecfa" textLength="19.65" lengthAdjust="spacingAndGlyphs">148</text>
<text x="968.62" y="606.30" font-size="12.8" font-weight="normal" fill="#d8ecfa" textLength="29.38" lengthAdjust="spacingAndGlyphs">187.6</text>
<text x="195.74" y="607.00" font-size="15" font-weight="bold" fill="#fff" textLength="28.10" lengthAdjust="spacingAndGlyphs" stroke="#fff" stroke-width="0.3">27.7</text>
<text x="482.06" y="607.00" font-size="15" font-weight="bold" fill="#fff" textLength="28.47" lengthAdjust="spacingAndGlyphs" stroke="#fff" stroke-width="0.3">86.9</text>
<text x="578.64" y="607.00" font-size="15" font-weight="bold" fill="#fff" textLength="35.71" lengthAdjust="spacingAndGlyphs" stroke="#fff" stroke-width="0.3">107.7</text>
<text x="681.64" y="607.00" font-size="15" font-weight="bold" fill="#fff" textLength="35.71" lengthAdjust="spacingAndGlyphs" stroke="#fff" stroke-width="0.3">128.2</text>
<text x="827.16" y="607.00" font-size="15" font-weight="bold" fill="#fff" textLength="35.12" lengthAdjust="spacingAndGlyphs" stroke="#fff" stroke-width="0.3">158.9</text>
<text x="908.65" y="607.00" font-size="15" font-weight="bold" fill="#fff" textLength="35.49" lengthAdjust="spacingAndGlyphs" stroke="#fff" stroke-width="0.3">175.5</text>
<text x="1003.62" y="607.00" font-size="15" font-weight="bold" fill="#fff" textLength="36.49" lengthAdjust="spacingAndGlyphs" stroke="#fff" stroke-width="0.3">195.2</text>
<text x="1115.00" y="607.00" font-size="15" font-weight="bold" fill="#fff" textLength="35.90" lengthAdjust="spacingAndGlyphs" stroke="#fff" stroke-width="0.3">219.5</text>
<text x="1162.50" y="607.00" font-size="15" font-weight="bold" fill="#fff" textLength="35.60" lengthAdjust="spacingAndGlyphs" stroke="#fff" stroke-width="0.3">228.4</text>
<text x="1212.00" y="607.00" font-size="15" font-weight="bold" fill="#fff" textLength="24.06" lengthAdjust="spacingAndGlyphs" stroke="#fff" stroke-width="0.3">236</text>
<g stroke="#222" stroke-width="1" fill="none">
<path d="M76.0 620.7 H1218" stroke-width="1.25"/>
<path d="M76.30 620.7 v7"/>
<path d="M100.47 620.7 v2.9"/>
<path d="M124.65 620.7 v7"/>
<path d="M148.82 620.7 v2.9"/>
<path d="M173.00 620.7 v7"/>
<path d="M197.18 620.7 v2.9"/>
<path d="M221.35 620.7 v7"/>
<path d="M245.52 620.7 v2.9"/>
<path d="M269.70 620.7 v7"/>
<path d="M293.88 620.7 v2.9"/>
<path d="M318.05 620.7 v7"/>
<path d="M342.23 620.7 v2.9"/>
<path d="M366.40 620.7 v7"/>
<path d="M390.57 620.7 v2.9"/>
<path d="M414.75 620.7 v7"/>
<path d="M438.93 620.7 v2.9"/>
<path d="M463.10 620.7 v7"/>
<path d="M487.28 620.7 v2.9"/>
<path d="M511.45 620.7 v7"/>
<path d="M535.62 620.7 v2.9"/>
<path d="M559.80 620.7 v7"/>
<path d="M583.98 620.7 v2.9"/>
<path d="M608.15 620.7 v7"/>
<path d="M632.32 620.7 v2.9"/>
<path d="M656.50 620.7 v7"/>
<path d="M680.67 620.7 v2.9"/>
<path d="M704.85 620.7 v7"/>
<path d="M729.02 620.7 v2.9"/>
<path d="M753.20 620.7 v7"/>
<path d="M777.38 620.7 v2.9"/>
<path d="M801.55 620.7 v7"/>
<path d="M825.72 620.7 v2.9"/>
<path d="M849.90 620.7 v7"/>
<path d="M874.07 620.7 v2.9"/>
<path d="M898.25 620.7 v7"/>
<path d="M922.42 620.7 v2.9"/>
<path d="M946.60 620.7 v7"/>
<path d="M970.77 620.7 v2.9"/>
<path d="M994.95 620.7 v7"/>
<path d="M1019.12 620.7 v2.9"/>
<path d="M1043.30 620.7 v7"/>
<path d="M1067.47 620.7 v2.9"/>
<path d="M1091.65 620.7 v7"/>
<path d="M1115.83 620.7 v2.9"/>
<path d="M1140.00 620.7 v7"/>
<path d="M1164.17 620.7 v2.9"/>
<path d="M1188.35 620.7 v7"/>
<path d="M1212.52 620.7 v2.9"/>
<path d="M1217.5 620.7 v2.9"/>
</g>
<text x="71.81" y="642.40" font-size="16" font-weight="bold" fill="#0c0c0c" textLength="9.66" lengthAdjust="spacingAndGlyphs" stroke="#0c0c0c" stroke-width="0.3">0</text>
<text x="164.43" y="642.40" font-size="16" font-weight="bold" fill="#0c0c0c" textLength="18.00" lengthAdjust="spacingAndGlyphs" stroke="#0c0c0c" stroke-width="0.3">20</text>
<text x="261.01" y="642.40" font-size="16" font-weight="bold" fill="#0c0c0c" textLength="17.92" lengthAdjust="spacingAndGlyphs" stroke="#0c0c0c" stroke-width="0.3">40</text>
<text x="357.43" y="642.40" font-size="16" font-weight="bold" fill="#0c0c0c" textLength="18.27" lengthAdjust="spacingAndGlyphs" stroke="#0c0c0c" stroke-width="0.3">60</text>
<text x="454.00" y="642.40" font-size="16" font-weight="bold" fill="#0c0c0c" textLength="18.45" lengthAdjust="spacingAndGlyphs" stroke="#0c0c0c" stroke-width="0.3">80</text>
<text x="547.08" y="642.40" font-size="16" font-weight="bold" fill="#0c0c0c" textLength="25.59" lengthAdjust="spacingAndGlyphs" stroke="#0c0c0c" stroke-width="0.3">100</text>
<text x="643.57" y="642.40" font-size="16" font-weight="bold" fill="#0c0c0c" textLength="25.85" lengthAdjust="spacingAndGlyphs" stroke="#0c0c0c" stroke-width="0.3">120</text>
<text x="740.34" y="642.40" font-size="16" font-weight="bold" fill="#0c0c0c" textLength="25.32" lengthAdjust="spacingAndGlyphs" stroke="#0c0c0c" stroke-width="0.3">140</text>
<text x="837.08" y="642.40" font-size="16" font-weight="bold" fill="#0c0c0c" textLength="25.59" lengthAdjust="spacingAndGlyphs" stroke="#0c0c0c" stroke-width="0.3">160</text>
<text x="934.08" y="642.40" font-size="16" font-weight="bold" fill="#0c0c0c" textLength="25.59" lengthAdjust="spacingAndGlyphs" stroke="#0c0c0c" stroke-width="0.3">180</text>
<text x="1030.71" y="642.40" font-size="16" font-weight="bold" fill="#0c0c0c" textLength="25.71" lengthAdjust="spacingAndGlyphs" stroke="#0c0c0c" stroke-width="0.3">200</text>
<text x="1126.95" y="642.40" font-size="16" font-weight="bold" fill="#0c0c0c" textLength="26.23" lengthAdjust="spacingAndGlyphs" stroke="#0c0c0c" stroke-width="0.3">220</text>
<text x="118.75" y="638.80" font-size="11.2" font-weight="normal" fill="#111" textLength="11.12" lengthAdjust="spacingAndGlyphs">10</text>
<text x="215.83" y="638.80" font-size="11.2" font-weight="normal" fill="#111" textLength="11.55" lengthAdjust="spacingAndGlyphs">30</text>
<text x="312.07" y="638.80" font-size="11.2" font-weight="normal" fill="#111" textLength="12.09" lengthAdjust="spacingAndGlyphs">50</text>
<text x="408.73" y="638.80" font-size="11.2" font-weight="normal" fill="#111" textLength="11.67" lengthAdjust="spacingAndGlyphs">70</text>
<text x="505.26" y="638.80" font-size="11.2" font-weight="normal" fill="#111" textLength="12.15" lengthAdjust="spacingAndGlyphs">90</text>
<text x="599.99" y="638.80" font-size="11.2" font-weight="normal" fill="#111" textLength="16.10" lengthAdjust="spacingAndGlyphs">110</text>
<text x="696.23" y="638.80" font-size="11.2" font-weight="normal" fill="#111" textLength="17.17" lengthAdjust="spacingAndGlyphs">130</text>
<text x="792.47" y="638.80" font-size="11.2" font-weight="normal" fill="#111" textLength="17.44" lengthAdjust="spacingAndGlyphs">150</text>
<text x="890.03" y="638.80" font-size="11.2" font-weight="normal" fill="#111" textLength="16.10" lengthAdjust="spacingAndGlyphs">170</text>
<text x="986.75" y="638.80" font-size="11.2" font-weight="normal" fill="#111" textLength="16.63" lengthAdjust="spacingAndGlyphs">190</text>
<text x="1083.77" y="638.80" font-size="11.2" font-weight="normal" fill="#111" textLength="16.10" lengthAdjust="spacingAndGlyphs">210</text>
<text x="1180.26" y="638.80" font-size="11.2" font-weight="normal" fill="#111" textLength="16.37" lengthAdjust="spacingAndGlyphs">230</text>
</svg>
</body>
</html>
